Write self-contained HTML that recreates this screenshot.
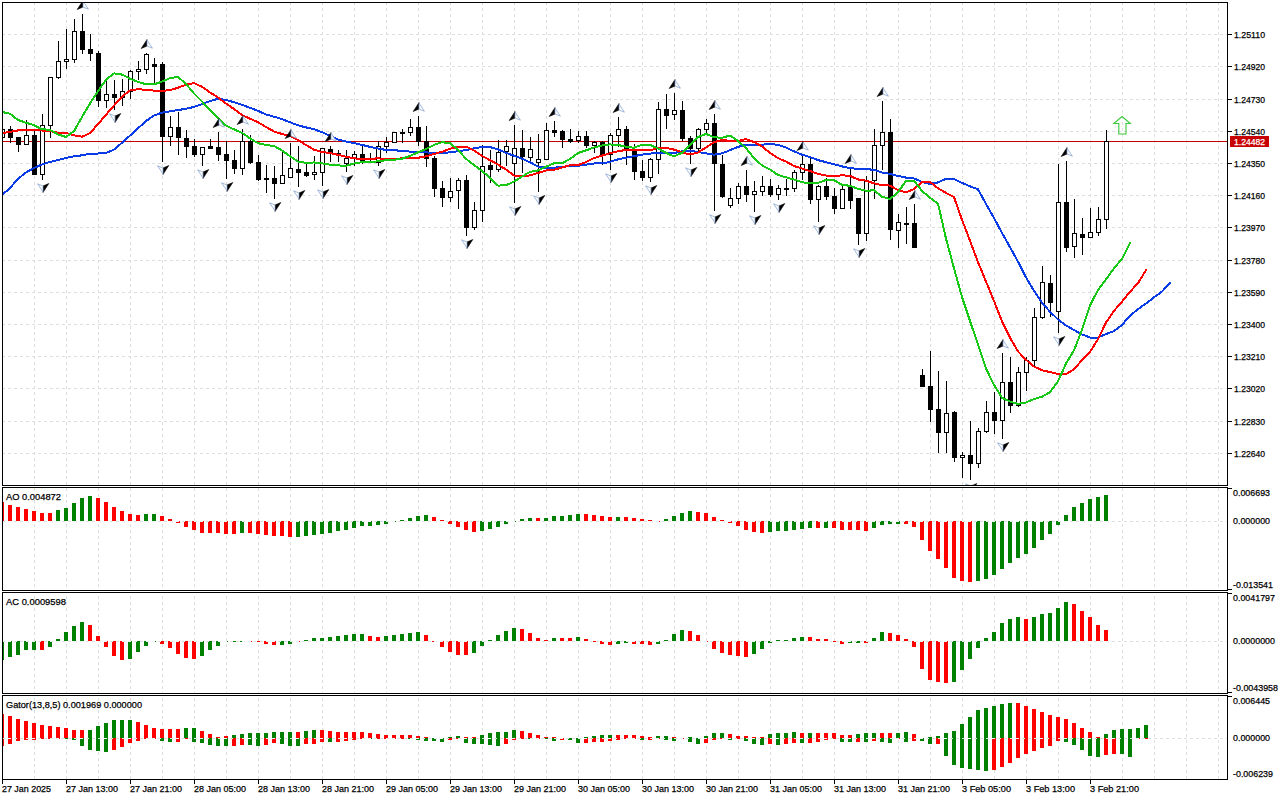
<!DOCTYPE html>
<html><head><meta charset="utf-8"><style>
html,body{margin:0;padding:0;background:#fff;width:1280px;height:800px;overflow:hidden}
svg{display:block;font-family:"Liberation Sans",sans-serif}
.g{stroke:#dedede;stroke-width:1;stroke-dasharray:3 3}
</style></head><body>
<svg width="1280" height="800" viewBox="0 0 1280 800">
<defs><clipPath id="cm"><rect x="3" y="3" width="1224" height="482"/></clipPath>
<clipPath id="cs"><rect x="3" y="488" width="1224" height="102"/><rect x="3" y="593" width="1224" height="100"/><rect x="3" y="696" width="1224" height="83"/></clipPath></defs>
<rect width="1280" height="800" fill="#fff"/>
<g shape-rendering="crispEdges">
<line x1="2" y1="34.5" x2="1227" y2="34.5" class="g"/>
<line x1="2" y1="66.5" x2="1227" y2="66.5" class="g"/>
<line x1="2" y1="99.5" x2="1227" y2="99.5" class="g"/>
<line x1="2" y1="131.5" x2="1227" y2="131.5" class="g"/>
<line x1="2" y1="163.5" x2="1227" y2="163.5" class="g"/>
<line x1="2" y1="195.5" x2="1227" y2="195.5" class="g"/>
<line x1="2" y1="227.5" x2="1227" y2="227.5" class="g"/>
<line x1="2" y1="260.5" x2="1227" y2="260.5" class="g"/>
<line x1="2" y1="292.5" x2="1227" y2="292.5" class="g"/>
<line x1="2" y1="324.5" x2="1227" y2="324.5" class="g"/>
<line x1="2" y1="356.5" x2="1227" y2="356.5" class="g"/>
<line x1="2" y1="388.5" x2="1227" y2="388.5" class="g"/>
<line x1="2" y1="421.5" x2="1227" y2="421.5" class="g"/>
<line x1="2" y1="453.5" x2="1227" y2="453.5" class="g"/>
<line x1="34.5" y1="2" x2="34.5" y2="485" class="g"/>
<line x1="66.5" y1="2" x2="66.5" y2="485" class="g"/>
<line x1="98.5" y1="2" x2="98.5" y2="485" class="g"/>
<line x1="130.5" y1="2" x2="130.5" y2="485" class="g"/>
<line x1="162.5" y1="2" x2="162.5" y2="485" class="g"/>
<line x1="194.5" y1="2" x2="194.5" y2="485" class="g"/>
<line x1="226.5" y1="2" x2="226.5" y2="485" class="g"/>
<line x1="258.5" y1="2" x2="258.5" y2="485" class="g"/>
<line x1="290.5" y1="2" x2="290.5" y2="485" class="g"/>
<line x1="322.5" y1="2" x2="322.5" y2="485" class="g"/>
<line x1="354.5" y1="2" x2="354.5" y2="485" class="g"/>
<line x1="386.5" y1="2" x2="386.5" y2="485" class="g"/>
<line x1="418.5" y1="2" x2="418.5" y2="485" class="g"/>
<line x1="450.5" y1="2" x2="450.5" y2="485" class="g"/>
<line x1="482.5" y1="2" x2="482.5" y2="485" class="g"/>
<line x1="514.5" y1="2" x2="514.5" y2="485" class="g"/>
<line x1="546.5" y1="2" x2="546.5" y2="485" class="g"/>
<line x1="578.5" y1="2" x2="578.5" y2="485" class="g"/>
<line x1="610.5" y1="2" x2="610.5" y2="485" class="g"/>
<line x1="642.5" y1="2" x2="642.5" y2="485" class="g"/>
<line x1="674.5" y1="2" x2="674.5" y2="485" class="g"/>
<line x1="706.5" y1="2" x2="706.5" y2="485" class="g"/>
<line x1="738.5" y1="2" x2="738.5" y2="485" class="g"/>
<line x1="770.5" y1="2" x2="770.5" y2="485" class="g"/>
<line x1="802.5" y1="2" x2="802.5" y2="485" class="g"/>
<line x1="834.5" y1="2" x2="834.5" y2="485" class="g"/>
<line x1="866.5" y1="2" x2="866.5" y2="485" class="g"/>
<line x1="898.5" y1="2" x2="898.5" y2="485" class="g"/>
<line x1="930.5" y1="2" x2="930.5" y2="485" class="g"/>
<line x1="962.5" y1="2" x2="962.5" y2="485" class="g"/>
<line x1="994.5" y1="2" x2="994.5" y2="485" class="g"/>
<line x1="1026.5" y1="2" x2="1026.5" y2="485" class="g"/>
<line x1="1058.5" y1="2" x2="1058.5" y2="485" class="g"/>
<line x1="1090.5" y1="2" x2="1090.5" y2="485" class="g"/>
<line x1="1122.5" y1="2" x2="1122.5" y2="485" class="g"/>
<line x1="1154.5" y1="2" x2="1154.5" y2="485" class="g"/>
<line x1="1186.5" y1="2" x2="1186.5" y2="485" class="g"/>
<line x1="1218.5" y1="2" x2="1218.5" y2="485" class="g"/>
<g clip-path="url(#cs)">
<line x1="34.5" y1="2" x2="34.5" y2="779" class="g"/>
<line x1="66.5" y1="2" x2="66.5" y2="779" class="g"/>
<line x1="98.5" y1="2" x2="98.5" y2="779" class="g"/>
<line x1="130.5" y1="2" x2="130.5" y2="779" class="g"/>
<line x1="162.5" y1="2" x2="162.5" y2="779" class="g"/>
<line x1="194.5" y1="2" x2="194.5" y2="779" class="g"/>
<line x1="226.5" y1="2" x2="226.5" y2="779" class="g"/>
<line x1="258.5" y1="2" x2="258.5" y2="779" class="g"/>
<line x1="290.5" y1="2" x2="290.5" y2="779" class="g"/>
<line x1="322.5" y1="2" x2="322.5" y2="779" class="g"/>
<line x1="354.5" y1="2" x2="354.5" y2="779" class="g"/>
<line x1="386.5" y1="2" x2="386.5" y2="779" class="g"/>
<line x1="418.5" y1="2" x2="418.5" y2="779" class="g"/>
<line x1="450.5" y1="2" x2="450.5" y2="779" class="g"/>
<line x1="482.5" y1="2" x2="482.5" y2="779" class="g"/>
<line x1="514.5" y1="2" x2="514.5" y2="779" class="g"/>
<line x1="546.5" y1="2" x2="546.5" y2="779" class="g"/>
<line x1="578.5" y1="2" x2="578.5" y2="779" class="g"/>
<line x1="610.5" y1="2" x2="610.5" y2="779" class="g"/>
<line x1="642.5" y1="2" x2="642.5" y2="779" class="g"/>
<line x1="674.5" y1="2" x2="674.5" y2="779" class="g"/>
<line x1="706.5" y1="2" x2="706.5" y2="779" class="g"/>
<line x1="738.5" y1="2" x2="738.5" y2="779" class="g"/>
<line x1="770.5" y1="2" x2="770.5" y2="779" class="g"/>
<line x1="802.5" y1="2" x2="802.5" y2="779" class="g"/>
<line x1="834.5" y1="2" x2="834.5" y2="779" class="g"/>
<line x1="866.5" y1="2" x2="866.5" y2="779" class="g"/>
<line x1="898.5" y1="2" x2="898.5" y2="779" class="g"/>
<line x1="930.5" y1="2" x2="930.5" y2="779" class="g"/>
<line x1="962.5" y1="2" x2="962.5" y2="779" class="g"/>
<line x1="994.5" y1="2" x2="994.5" y2="779" class="g"/>
<line x1="1026.5" y1="2" x2="1026.5" y2="779" class="g"/>
<line x1="1058.5" y1="2" x2="1058.5" y2="779" class="g"/>
<line x1="1090.5" y1="2" x2="1090.5" y2="779" class="g"/>
<line x1="1122.5" y1="2" x2="1122.5" y2="779" class="g"/>
<line x1="1154.5" y1="2" x2="1154.5" y2="779" class="g"/>
<line x1="1186.5" y1="2" x2="1186.5" y2="779" class="g"/>
<line x1="1218.5" y1="2" x2="1218.5" y2="779" class="g"/>
</g>
<line x1="2" y1="521.5" x2="1227" y2="521.5" class="g"/>
<line x1="2" y1="641.5" x2="1227" y2="641.5" class="g"/>
<line x1="2" y1="738.5" x2="1227" y2="738.5" class="g"/>
<g clip-path="url(#cm)">
<rect x="3" y="141" width="1224" height="1" fill="#c80000"/>
<rect x="2" y="129" width="1" height="9" fill="#000"/>
<rect x="0" y="129" width="5" height="9" fill="#000"/>
<rect x="1" y="130" width="3" height="7" fill="#fff"/>
<rect x="10" y="126" width="1" height="17" fill="#000"/>
<rect x="8" y="129" width="5" height="9" fill="#000"/>
<rect x="18" y="137" width="1" height="15" fill="#000"/>
<rect x="16" y="137" width="5" height="8" fill="#000"/>
<rect x="26" y="120" width="1" height="25" fill="#000"/>
<rect x="24" y="135" width="5" height="10" fill="#000"/>
<rect x="25" y="136" width="3" height="8" fill="#fff"/>
<rect x="34" y="129" width="1" height="46" fill="#000"/>
<rect x="32" y="135" width="5" height="40" fill="#000"/>
<rect x="42" y="114" width="1" height="66" fill="#000"/>
<rect x="40" y="125" width="5" height="50" fill="#000"/>
<rect x="41" y="126" width="3" height="48" fill="#fff"/>
<rect x="50" y="77" width="1" height="61" fill="#000"/>
<rect x="48" y="77" width="5" height="49" fill="#000"/>
<rect x="49" y="78" width="3" height="47" fill="#fff"/>
<rect x="58" y="41" width="1" height="38" fill="#000"/>
<rect x="56" y="61" width="5" height="17" fill="#000"/>
<rect x="57" y="62" width="3" height="15" fill="#fff"/>
<rect x="66" y="29" width="1" height="40" fill="#000"/>
<rect x="64" y="59" width="5" height="3" fill="#000"/>
<rect x="65" y="60" width="3" height="1" fill="#fff"/>
<rect x="74" y="19" width="1" height="44" fill="#000"/>
<rect x="72" y="31" width="5" height="29" fill="#000"/>
<rect x="73" y="32" width="3" height="27" fill="#fff"/>
<rect x="82" y="14" width="1" height="40" fill="#000"/>
<rect x="80" y="31" width="5" height="19" fill="#000"/>
<rect x="90" y="34" width="1" height="27" fill="#000"/>
<rect x="88" y="49" width="5" height="5" fill="#000"/>
<rect x="98" y="51" width="1" height="56" fill="#000"/>
<rect x="96" y="53" width="5" height="48" fill="#000"/>
<rect x="106" y="81" width="1" height="27" fill="#000"/>
<rect x="104" y="94" width="5" height="7" fill="#000"/>
<rect x="105" y="95" width="3" height="5" fill="#fff"/>
<rect x="114" y="80" width="1" height="30" fill="#000"/>
<rect x="112" y="94" width="5" height="4" fill="#000"/>
<rect x="122" y="79" width="1" height="27" fill="#000"/>
<rect x="120" y="91" width="5" height="7" fill="#000"/>
<rect x="121" y="92" width="3" height="5" fill="#fff"/>
<rect x="130" y="70" width="1" height="29" fill="#000"/>
<rect x="128" y="71" width="5" height="21" fill="#000"/>
<rect x="129" y="72" width="3" height="19" fill="#fff"/>
<rect x="138" y="61" width="1" height="19" fill="#000"/>
<rect x="136" y="69" width="5" height="3" fill="#000"/>
<rect x="137" y="70" width="3" height="1" fill="#fff"/>
<rect x="146" y="53" width="1" height="21" fill="#000"/>
<rect x="144" y="54" width="5" height="16" fill="#000"/>
<rect x="145" y="55" width="3" height="14" fill="#fff"/>
<rect x="154" y="58" width="1" height="27" fill="#000"/>
<rect x="152" y="64" width="5" height="3" fill="#000"/>
<rect x="162" y="62" width="1" height="100" fill="#000"/>
<rect x="160" y="64" width="5" height="73" fill="#000"/>
<rect x="170" y="116" width="1" height="30" fill="#000"/>
<rect x="168" y="127" width="5" height="10" fill="#000"/>
<rect x="169" y="128" width="3" height="8" fill="#fff"/>
<rect x="178" y="112" width="1" height="43" fill="#000"/>
<rect x="176" y="127" width="5" height="11" fill="#000"/>
<rect x="186" y="130" width="1" height="28" fill="#000"/>
<rect x="184" y="138" width="5" height="9" fill="#000"/>
<rect x="194" y="139" width="1" height="18" fill="#000"/>
<rect x="192" y="146" width="5" height="9" fill="#000"/>
<rect x="202" y="147" width="1" height="19" fill="#000"/>
<rect x="200" y="147" width="5" height="8" fill="#000"/>
<rect x="201" y="148" width="3" height="6" fill="#fff"/>
<rect x="210" y="139" width="1" height="10" fill="#000"/>
<rect x="208" y="146" width="5" height="3" fill="#000"/>
<rect x="218" y="132" width="1" height="29" fill="#000"/>
<rect x="216" y="147" width="5" height="8" fill="#000"/>
<rect x="226" y="141" width="1" height="38" fill="#000"/>
<rect x="224" y="154" width="5" height="7" fill="#000"/>
<rect x="234" y="150" width="1" height="24" fill="#000"/>
<rect x="232" y="160" width="5" height="9" fill="#000"/>
<rect x="242" y="129" width="1" height="46" fill="#000"/>
<rect x="240" y="141" width="5" height="28" fill="#000"/>
<rect x="241" y="142" width="3" height="26" fill="#fff"/>
<rect x="250" y="135" width="1" height="29" fill="#000"/>
<rect x="248" y="141" width="5" height="22" fill="#000"/>
<rect x="258" y="155" width="1" height="26" fill="#000"/>
<rect x="256" y="162" width="5" height="18" fill="#000"/>
<rect x="266" y="165" width="1" height="28" fill="#000"/>
<rect x="264" y="178" width="5" height="2" fill="#000"/>
<rect x="274" y="166" width="1" height="33" fill="#000"/>
<rect x="272" y="178" width="5" height="6" fill="#000"/>
<rect x="282" y="151" width="1" height="33" fill="#000"/>
<rect x="280" y="175" width="5" height="9" fill="#000"/>
<rect x="281" y="176" width="3" height="7" fill="#fff"/>
<rect x="290" y="143" width="1" height="35" fill="#000"/>
<rect x="288" y="168" width="5" height="10" fill="#000"/>
<rect x="289" y="169" width="3" height="8" fill="#fff"/>
<rect x="298" y="146" width="1" height="41" fill="#000"/>
<rect x="296" y="169" width="5" height="4" fill="#000"/>
<rect x="306" y="162" width="1" height="15" fill="#000"/>
<rect x="304" y="172" width="5" height="4" fill="#000"/>
<rect x="314" y="156" width="1" height="24" fill="#000"/>
<rect x="312" y="172" width="5" height="3" fill="#000"/>
<rect x="313" y="173" width="3" height="1" fill="#fff"/>
<rect x="322" y="148" width="1" height="38" fill="#000"/>
<rect x="320" y="148" width="5" height="25" fill="#000"/>
<rect x="321" y="149" width="3" height="23" fill="#fff"/>
<rect x="330" y="146" width="1" height="16" fill="#000"/>
<rect x="328" y="149" width="5" height="5" fill="#000"/>
<rect x="338" y="150" width="1" height="12" fill="#000"/>
<rect x="336" y="153" width="5" height="2" fill="#000"/>
<rect x="346" y="150" width="1" height="22" fill="#000"/>
<rect x="344" y="158" width="5" height="6" fill="#000"/>
<rect x="345" y="159" width="3" height="4" fill="#fff"/>
<rect x="354" y="151" width="1" height="15" fill="#000"/>
<rect x="352" y="154" width="5" height="5" fill="#000"/>
<rect x="353" y="155" width="3" height="3" fill="#fff"/>
<rect x="362" y="146" width="1" height="18" fill="#000"/>
<rect x="360" y="154" width="5" height="7" fill="#000"/>
<rect x="370" y="153" width="1" height="10" fill="#000"/>
<rect x="368" y="161" width="5" height="2" fill="#000"/>
<rect x="378" y="141" width="1" height="25" fill="#000"/>
<rect x="376" y="146" width="5" height="17" fill="#000"/>
<rect x="377" y="147" width="3" height="15" fill="#fff"/>
<rect x="386" y="137" width="1" height="16" fill="#000"/>
<rect x="384" y="142" width="5" height="5" fill="#000"/>
<rect x="385" y="143" width="3" height="3" fill="#fff"/>
<rect x="394" y="132" width="1" height="11" fill="#000"/>
<rect x="392" y="132" width="5" height="11" fill="#000"/>
<rect x="393" y="133" width="3" height="9" fill="#fff"/>
<rect x="402" y="129" width="1" height="14" fill="#000"/>
<rect x="400" y="132" width="5" height="2" fill="#000"/>
<rect x="410" y="119" width="1" height="17" fill="#000"/>
<rect x="408" y="127" width="5" height="6" fill="#000"/>
<rect x="409" y="128" width="3" height="4" fill="#fff"/>
<rect x="418" y="116" width="1" height="30" fill="#000"/>
<rect x="416" y="127" width="5" height="15" fill="#000"/>
<rect x="426" y="126" width="1" height="41" fill="#000"/>
<rect x="424" y="141" width="5" height="18" fill="#000"/>
<rect x="434" y="156" width="1" height="41" fill="#000"/>
<rect x="432" y="158" width="5" height="31" fill="#000"/>
<rect x="442" y="181" width="1" height="26" fill="#000"/>
<rect x="440" y="188" width="5" height="10" fill="#000"/>
<rect x="450" y="178" width="1" height="24" fill="#000"/>
<rect x="448" y="191" width="5" height="7" fill="#000"/>
<rect x="449" y="192" width="3" height="5" fill="#fff"/>
<rect x="458" y="178" width="1" height="31" fill="#000"/>
<rect x="456" y="180" width="5" height="11" fill="#000"/>
<rect x="457" y="181" width="3" height="9" fill="#fff"/>
<rect x="466" y="175" width="1" height="61" fill="#000"/>
<rect x="464" y="180" width="5" height="48" fill="#000"/>
<rect x="474" y="202" width="1" height="28" fill="#000"/>
<rect x="472" y="210" width="5" height="18" fill="#000"/>
<rect x="473" y="211" width="3" height="16" fill="#fff"/>
<rect x="482" y="145" width="1" height="77" fill="#000"/>
<rect x="480" y="166" width="5" height="45" fill="#000"/>
<rect x="481" y="167" width="3" height="43" fill="#fff"/>
<rect x="490" y="150" width="1" height="33" fill="#000"/>
<rect x="488" y="165" width="5" height="5" fill="#000"/>
<rect x="498" y="140" width="1" height="32" fill="#000"/>
<rect x="496" y="152" width="5" height="18" fill="#000"/>
<rect x="497" y="153" width="3" height="16" fill="#fff"/>
<rect x="506" y="140" width="1" height="26" fill="#000"/>
<rect x="504" y="146" width="5" height="6" fill="#000"/>
<rect x="505" y="147" width="3" height="4" fill="#fff"/>
<rect x="514" y="125" width="1" height="78" fill="#000"/>
<rect x="512" y="148" width="5" height="16" fill="#000"/>
<rect x="513" y="149" width="3" height="14" fill="#fff"/>
<rect x="522" y="130" width="1" height="43" fill="#000"/>
<rect x="520" y="148" width="5" height="9" fill="#000"/>
<rect x="530" y="137" width="1" height="24" fill="#000"/>
<rect x="528" y="149" width="5" height="9" fill="#000"/>
<rect x="529" y="150" width="3" height="7" fill="#fff"/>
<rect x="538" y="134" width="1" height="58" fill="#000"/>
<rect x="536" y="159" width="5" height="4" fill="#000"/>
<rect x="537" y="160" width="3" height="2" fill="#fff"/>
<rect x="546" y="123" width="1" height="37" fill="#000"/>
<rect x="544" y="130" width="5" height="30" fill="#000"/>
<rect x="545" y="131" width="3" height="28" fill="#fff"/>
<rect x="554" y="121" width="1" height="16" fill="#000"/>
<rect x="552" y="130" width="5" height="3" fill="#000"/>
<rect x="562" y="130" width="1" height="18" fill="#000"/>
<rect x="560" y="131" width="5" height="9" fill="#000"/>
<rect x="570" y="129" width="1" height="14" fill="#000"/>
<rect x="568" y="139" width="5" height="3" fill="#000"/>
<rect x="578" y="131" width="1" height="12" fill="#000"/>
<rect x="576" y="136" width="5" height="5" fill="#000"/>
<rect x="577" y="137" width="3" height="3" fill="#fff"/>
<rect x="586" y="131" width="1" height="17" fill="#000"/>
<rect x="584" y="136" width="5" height="10" fill="#000"/>
<rect x="594" y="141" width="1" height="12" fill="#000"/>
<rect x="592" y="142" width="5" height="4" fill="#000"/>
<rect x="593" y="143" width="3" height="2" fill="#fff"/>
<rect x="602" y="141" width="1" height="24" fill="#000"/>
<rect x="600" y="142" width="5" height="13" fill="#000"/>
<rect x="610" y="133" width="1" height="37" fill="#000"/>
<rect x="608" y="135" width="5" height="20" fill="#000"/>
<rect x="609" y="136" width="3" height="18" fill="#fff"/>
<rect x="618" y="117" width="1" height="30" fill="#000"/>
<rect x="616" y="129" width="5" height="7" fill="#000"/>
<rect x="617" y="130" width="3" height="5" fill="#fff"/>
<rect x="626" y="126" width="1" height="39" fill="#000"/>
<rect x="624" y="129" width="5" height="20" fill="#000"/>
<rect x="634" y="144" width="1" height="36" fill="#000"/>
<rect x="632" y="151" width="5" height="21" fill="#000"/>
<rect x="642" y="160" width="1" height="21" fill="#000"/>
<rect x="640" y="171" width="5" height="7" fill="#000"/>
<rect x="650" y="158" width="1" height="24" fill="#000"/>
<rect x="648" y="159" width="5" height="19" fill="#000"/>
<rect x="649" y="160" width="3" height="17" fill="#fff"/>
<rect x="658" y="102" width="1" height="72" fill="#000"/>
<rect x="656" y="109" width="5" height="51" fill="#000"/>
<rect x="657" y="110" width="3" height="49" fill="#fff"/>
<rect x="666" y="94" width="1" height="35" fill="#000"/>
<rect x="664" y="109" width="5" height="7" fill="#000"/>
<rect x="674" y="93" width="1" height="27" fill="#000"/>
<rect x="672" y="110" width="5" height="5" fill="#000"/>
<rect x="673" y="111" width="3" height="3" fill="#fff"/>
<rect x="682" y="101" width="1" height="40" fill="#000"/>
<rect x="680" y="110" width="5" height="29" fill="#000"/>
<rect x="690" y="136" width="1" height="28" fill="#000"/>
<rect x="688" y="138" width="5" height="11" fill="#000"/>
<rect x="698" y="128" width="1" height="23" fill="#000"/>
<rect x="696" y="129" width="5" height="20" fill="#000"/>
<rect x="697" y="130" width="3" height="18" fill="#fff"/>
<rect x="706" y="119" width="1" height="14" fill="#000"/>
<rect x="704" y="123" width="5" height="7" fill="#000"/>
<rect x="705" y="124" width="3" height="5" fill="#fff"/>
<rect x="714" y="114" width="1" height="97" fill="#000"/>
<rect x="712" y="123" width="5" height="41" fill="#000"/>
<rect x="722" y="155" width="1" height="43" fill="#000"/>
<rect x="720" y="164" width="5" height="33" fill="#000"/>
<rect x="730" y="188" width="1" height="20" fill="#000"/>
<rect x="728" y="198" width="5" height="8" fill="#000"/>
<rect x="729" y="199" width="3" height="6" fill="#fff"/>
<rect x="738" y="183" width="1" height="21" fill="#000"/>
<rect x="736" y="186" width="5" height="13" fill="#000"/>
<rect x="737" y="187" width="3" height="11" fill="#fff"/>
<rect x="746" y="170" width="1" height="32" fill="#000"/>
<rect x="744" y="186" width="5" height="9" fill="#000"/>
<rect x="754" y="181" width="1" height="31" fill="#000"/>
<rect x="752" y="191" width="5" height="4" fill="#000"/>
<rect x="753" y="192" width="3" height="2" fill="#fff"/>
<rect x="762" y="176" width="1" height="20" fill="#000"/>
<rect x="760" y="186" width="5" height="6" fill="#000"/>
<rect x="761" y="187" width="3" height="4" fill="#fff"/>
<rect x="770" y="179" width="1" height="18" fill="#000"/>
<rect x="768" y="186" width="5" height="9" fill="#000"/>
<rect x="778" y="185" width="1" height="15" fill="#000"/>
<rect x="776" y="188" width="5" height="7" fill="#000"/>
<rect x="777" y="189" width="3" height="5" fill="#fff"/>
<rect x="786" y="179" width="1" height="17" fill="#000"/>
<rect x="784" y="188" width="5" height="2" fill="#000"/>
<rect x="794" y="170" width="1" height="22" fill="#000"/>
<rect x="792" y="172" width="5" height="17" fill="#000"/>
<rect x="793" y="173" width="3" height="15" fill="#fff"/>
<rect x="802" y="155" width="1" height="25" fill="#000"/>
<rect x="800" y="164" width="5" height="9" fill="#000"/>
<rect x="801" y="165" width="3" height="7" fill="#fff"/>
<rect x="810" y="157" width="1" height="47" fill="#000"/>
<rect x="808" y="164" width="5" height="36" fill="#000"/>
<rect x="818" y="185" width="1" height="37" fill="#000"/>
<rect x="816" y="186" width="5" height="14" fill="#000"/>
<rect x="817" y="187" width="3" height="12" fill="#fff"/>
<rect x="826" y="178" width="1" height="22" fill="#000"/>
<rect x="824" y="186" width="5" height="11" fill="#000"/>
<rect x="834" y="188" width="1" height="26" fill="#000"/>
<rect x="832" y="196" width="5" height="13" fill="#000"/>
<rect x="842" y="186" width="1" height="23" fill="#000"/>
<rect x="840" y="189" width="5" height="20" fill="#000"/>
<rect x="841" y="190" width="3" height="18" fill="#fff"/>
<rect x="850" y="168" width="1" height="41" fill="#000"/>
<rect x="848" y="187" width="5" height="14" fill="#000"/>
<rect x="858" y="198" width="1" height="47" fill="#000"/>
<rect x="856" y="198" width="5" height="36" fill="#000"/>
<rect x="866" y="176" width="1" height="65" fill="#000"/>
<rect x="864" y="180" width="5" height="54" fill="#000"/>
<rect x="865" y="181" width="3" height="52" fill="#fff"/>
<rect x="874" y="129" width="1" height="70" fill="#000"/>
<rect x="872" y="145" width="5" height="36" fill="#000"/>
<rect x="873" y="146" width="3" height="34" fill="#fff"/>
<rect x="882" y="101" width="1" height="69" fill="#000"/>
<rect x="880" y="132" width="5" height="14" fill="#000"/>
<rect x="881" y="133" width="3" height="12" fill="#fff"/>
<rect x="890" y="119" width="1" height="121" fill="#000"/>
<rect x="888" y="132" width="5" height="98" fill="#000"/>
<rect x="898" y="214" width="1" height="34" fill="#000"/>
<rect x="896" y="222" width="5" height="9" fill="#000"/>
<rect x="897" y="223" width="3" height="7" fill="#fff"/>
<rect x="906" y="207" width="1" height="37" fill="#000"/>
<rect x="904" y="223" width="5" height="2" fill="#000"/>
<rect x="914" y="204" width="1" height="44" fill="#000"/>
<rect x="912" y="223" width="5" height="25" fill="#000"/>
<rect x="922" y="369" width="1" height="18" fill="#000"/>
<rect x="920" y="375" width="5" height="12" fill="#000"/>
<rect x="930" y="351" width="1" height="71" fill="#000"/>
<rect x="928" y="386" width="5" height="24" fill="#000"/>
<rect x="938" y="371" width="1" height="82" fill="#000"/>
<rect x="936" y="409" width="5" height="24" fill="#000"/>
<rect x="946" y="381" width="1" height="72" fill="#000"/>
<rect x="944" y="413" width="5" height="20" fill="#000"/>
<rect x="945" y="414" width="3" height="18" fill="#fff"/>
<rect x="954" y="411" width="1" height="51" fill="#000"/>
<rect x="952" y="412" width="5" height="46" fill="#000"/>
<rect x="962" y="452" width="1" height="26" fill="#000"/>
<rect x="960" y="455" width="5" height="3" fill="#000"/>
<rect x="961" y="456" width="3" height="1" fill="#fff"/>
<rect x="970" y="421" width="1" height="59" fill="#000"/>
<rect x="968" y="455" width="5" height="9" fill="#000"/>
<rect x="978" y="428" width="1" height="40" fill="#000"/>
<rect x="976" y="431" width="5" height="33" fill="#000"/>
<rect x="977" y="432" width="3" height="31" fill="#fff"/>
<rect x="986" y="401" width="1" height="32" fill="#000"/>
<rect x="984" y="412" width="5" height="20" fill="#000"/>
<rect x="985" y="413" width="3" height="18" fill="#fff"/>
<rect x="994" y="392" width="1" height="42" fill="#000"/>
<rect x="992" y="412" width="5" height="9" fill="#000"/>
<rect x="1002" y="353" width="1" height="86" fill="#000"/>
<rect x="1000" y="382" width="5" height="39" fill="#000"/>
<rect x="1001" y="383" width="3" height="37" fill="#fff"/>
<rect x="1010" y="357" width="1" height="56" fill="#000"/>
<rect x="1008" y="382" width="5" height="24" fill="#000"/>
<rect x="1018" y="367" width="1" height="40" fill="#000"/>
<rect x="1016" y="372" width="5" height="34" fill="#000"/>
<rect x="1017" y="373" width="3" height="32" fill="#fff"/>
<rect x="1026" y="357" width="1" height="34" fill="#000"/>
<rect x="1024" y="360" width="5" height="13" fill="#000"/>
<rect x="1025" y="361" width="3" height="11" fill="#fff"/>
<rect x="1034" y="308" width="1" height="58" fill="#000"/>
<rect x="1032" y="317" width="5" height="44" fill="#000"/>
<rect x="1033" y="318" width="3" height="42" fill="#fff"/>
<rect x="1042" y="266" width="1" height="53" fill="#000"/>
<rect x="1040" y="282" width="5" height="36" fill="#000"/>
<rect x="1041" y="283" width="3" height="34" fill="#fff"/>
<rect x="1050" y="275" width="1" height="42" fill="#000"/>
<rect x="1048" y="283" width="5" height="20" fill="#000"/>
<rect x="1058" y="164" width="1" height="169" fill="#000"/>
<rect x="1056" y="202" width="5" height="110" fill="#000"/>
<rect x="1057" y="203" width="3" height="108" fill="#fff"/>
<rect x="1066" y="161" width="1" height="91" fill="#000"/>
<rect x="1064" y="202" width="5" height="46" fill="#000"/>
<rect x="1074" y="199" width="1" height="59" fill="#000"/>
<rect x="1072" y="233" width="5" height="14" fill="#000"/>
<rect x="1073" y="234" width="3" height="12" fill="#fff"/>
<rect x="1082" y="218" width="1" height="37" fill="#000"/>
<rect x="1080" y="234" width="5" height="4" fill="#000"/>
<rect x="1090" y="208" width="1" height="30" fill="#000"/>
<rect x="1088" y="232" width="5" height="6" fill="#000"/>
<rect x="1089" y="233" width="3" height="4" fill="#fff"/>
<rect x="1098" y="207" width="1" height="29" fill="#000"/>
<rect x="1096" y="219" width="5" height="14" fill="#000"/>
<rect x="1097" y="220" width="3" height="12" fill="#fff"/>
<rect x="1106" y="130" width="1" height="99" fill="#000"/>
<rect x="1104" y="141" width="5" height="79" fill="#000"/>
<rect x="1105" y="142" width="3" height="77" fill="#fff"/>
<polyline points="2,195.00 10,188.00 18,178.75 26,172.50 34,168.00 42,164.40 50,162.00 58,160.00 66,157.99 74,156.22 82,155.35 90,153.62 98,153.53 106,153.05 114,149.58 122,142.72 130,135.54 138,128.30 146,121.08 154,115.45 162,112.68 170,111.31 178,110.08 186,108.76 194,106.93 202,104.16 210,101.06 218,98.82 226,99.86 234,102.29 242,104.72 250,107.77 258,110.90 266,114.44 274,116.74 282,119.06 290,122.24 298,125.33 306,127.41 314,129.14 322,132.16 330,135.80 338,139.42 346,141.61 354,143.09 362,144.92 370,146.85 378,148.50 386,149.96 394,150.30 402,150.77 410,151.59 418,152.15 426,152.40 434,152.86 442,152.94 450,152.36 458,151.25 466,150.11 474,148.40 482,147.09 490,147.08 498,149.37 506,152.83 514,155.72 522,158.66 530,162.29 538,166.46 546,167.80 554,167.73 562,166.86 570,165.82 578,165.71 586,164.65 594,163.48 602,163.47 610,161.81 618,159.32 626,157.79 634,156.14 642,154.70 650,153.56 658,153.09 666,153.11 674,153.02 682,151.43 690,151.01 698,151.88 706,153.35 714,154.66 722,153.41 730,150.21 738,146.88 746,144.92 754,145.34 762,144.92 770,143.50 778,144.99 786,147.45 794,151.37 802,154.64 810,157.08 818,160.14 826,162.16 834,164.18 842,166.39 850,168.05 858,169.07 866,168.98 874,169.90 882,172.51 890,173.81 898,175.94 906,177.63 914,178.49 922,181.83 930,183.91 938,182.41 946,178.83 954,178.92 962,182.95 970,186.26 978,189.35 986,203.89 994,217.97 1002,232.92 1010,247.11 1018,261.71 1026,277.38 1034,290.73 1042,302.86 1050,311.67 1058,319.49 1066,325.41 1074,330.02 1082,334.44 1090,337.51 1098,337.50 1106,334.07 1114,331.17 1122,324.85 1130,315.77 1138,309.09 1146,303.54 1154,297.37 1162,291.57 1170,282.98" fill="none" stroke="#0a3ce6" stroke-width="2" stroke-linejoin="round" stroke-linecap="round"/>
<polyline points="2,133.00 10,131.90 18,130.40 26,130.00 34,130.00 42,130.49 50,131.04 58,132.77 66,132.79 74,135.24 82,136.76 90,133.15 98,124.06 106,114.73 114,105.56 122,96.66 130,90.57 138,89.17 146,89.89 154,90.58 162,90.87 170,90.12 178,87.72 186,84.74 194,83.14 202,86.79 210,92.37 218,97.56 226,103.42 234,109.04 242,115.02 250,118.69 258,122.22 266,126.99 274,131.42 282,134.04 290,136.02 298,140.07 306,144.99 314,149.73 322,152.00 330,153.11 338,154.83 346,156.72 354,158.18 362,159.33 370,158.71 378,158.42 386,158.80 394,158.81 402,158.38 410,158.39 418,157.82 426,156.27 434,153.98 442,151.78 450,148.79 458,146.62 466,146.65 474,150.44 482,155.93 490,160.24 498,164.45 506,169.63 514,175.48 522,176.53 530,175.32 538,172.96 546,170.51 554,169.75 562,167.52 570,165.25 578,165.02 586,162.13 594,158.04 602,155.71 610,153.30 618,151.31 626,149.88 634,149.57 642,150.05 650,150.28 658,148.05 666,147.78 674,149.61 682,152.27 690,154.53 698,152.52 706,147.44 714,142.37 722,139.75 730,141.08 738,140.93 746,139.12 754,142.09 762,146.44 770,152.94 778,158.06 786,161.60 794,166.01 802,168.56 810,171.04 818,173.77 826,175.54 834,176.27 842,175.23 850,175.93 858,179.43 866,180.68 874,183.27 882,185.10 890,185.57 898,190.11 906,192.46 914,188.95 922,182.32 930,182.02 938,188.19 946,192.91 954,197.09 962,219.76 970,240.65 978,262.12 986,281.53 994,300.95 1002,321.51 1010,337.68 1018,351.52 1026,359.75 1034,366.46 1042,370.20 1050,372.10 1058,374.01 1066,374.06 1074,369.48 1082,359.91 1090,351.97 1098,339.09 1106,322.56 1114,310.85 1122,301.61 1130,291.83 1138,283.09 1146,270.19" fill="none" stroke="#ff0000" stroke-width="2" stroke-linejoin="round" stroke-linecap="round"/>
<polyline points="2,111.90 10,113.75 18,120.00 26,122.78 34,125.20 42,129.14 50,129.89 58,134.40 66,137.00 74,131.18 82,117.02 90,103.50 98,91.08 106,79.74 114,73.37 122,74.58 130,78.64 138,81.99 146,84.18 154,84.32 162,81.64 170,78.09 178,76.85 186,83.96 194,93.45 202,101.54 210,110.11 218,117.77 226,125.60 234,129.36 242,132.86 250,138.37 258,143.18 266,145.02 274,146.00 282,150.48 290,156.26 298,161.59 306,162.85 314,162.46 322,163.35 330,164.66 338,165.41 346,165.81 354,163.52 362,162.10 370,161.96 378,161.35 386,160.16 394,159.81 402,158.63 410,155.98 418,152.36 426,149.17 434,144.92 442,142.21 450,143.15 458,149.90 466,158.80 474,165.12 482,170.88 490,177.88 498,185.58 506,185.25 514,181.58 522,176.54 530,171.91 538,170.41 546,166.71 554,163.25 562,163.28 570,159.00 578,153.08 586,150.35 594,147.56 602,145.53 610,144.40 618,145.00 626,146.68 634,147.72 642,144.66 650,144.91 658,148.41 666,152.90 674,156.40 682,152.80 690,144.62 698,137.08 706,133.94 714,137.23 722,137.77 730,135.49 738,140.97 746,148.16 754,158.21 762,165.35 770,169.56 778,175.03 786,177.30 794,179.52 802,182.20 810,183.34 818,182.95 826,179.94 834,180.13 842,184.89 850,185.79 858,188.91 866,190.71 874,190.35 882,196.66 890,199.11 898,192.16 906,180.91 914,180.71 922,190.85 930,197.86 938,203.57 946,238.53 954,268.21 962,297.05 970,321.12 978,344.27 986,368.50 994,384.98 1002,397.66 1010,401.61 1018,403.97 1026,402.45 1034,399.04 1042,396.71 1050,392.25 1058,381.28 1066,363.61 1074,350.16 1082,329.91 1090,305.31 1098,290.03 1106,279.40 1114,268.20 1122,258.94 1130,243.13" fill="none" stroke="#14c814" stroke-width="2" stroke-linejoin="round" stroke-linecap="round"/>
<path d="M83,0.5 L77.2,9.5 L83,7 Z" fill="#000" stroke="#000" stroke-width="0.6" shape-rendering="geometricPrecision"/>
<path d="M83,1.1 L88.4,9.2 L83,7 Z" fill="#fff" stroke="#7a9ac8" stroke-width="0.7" shape-rendering="geometricPrecision"/>
<path d="M147,39.5 L141.2,48.5 L147,46 Z" fill="#000" stroke="#000" stroke-width="0.6" shape-rendering="geometricPrecision"/>
<path d="M147,40.1 L152.4,48.2 L147,46 Z" fill="#fff" stroke="#7a9ac8" stroke-width="0.7" shape-rendering="geometricPrecision"/>
<path d="M219,118.5 L213.2,127.5 L219,125 Z" fill="#000" stroke="#000" stroke-width="0.6" shape-rendering="geometricPrecision"/>
<path d="M219,119.1 L224.4,127.2 L219,125 Z" fill="#fff" stroke="#7a9ac8" stroke-width="0.7" shape-rendering="geometricPrecision"/>
<path d="M243,115.5 L237.2,124.5 L243,122 Z" fill="#000" stroke="#000" stroke-width="0.6" shape-rendering="geometricPrecision"/>
<path d="M243,116.1 L248.4,124.2 L243,122 Z" fill="#fff" stroke="#7a9ac8" stroke-width="0.7" shape-rendering="geometricPrecision"/>
<path d="M291,129.5 L285.2,138.5 L291,136 Z" fill="#000" stroke="#000" stroke-width="0.6" shape-rendering="geometricPrecision"/>
<path d="M291,130.1 L296.4,138.2 L291,136 Z" fill="#fff" stroke="#7a9ac8" stroke-width="0.7" shape-rendering="geometricPrecision"/>
<path d="M331,132.5 L325.2,141.5 L331,139 Z" fill="#000" stroke="#000" stroke-width="0.6" shape-rendering="geometricPrecision"/>
<path d="M331,133.1 L336.4,141.2 L331,139 Z" fill="#fff" stroke="#7a9ac8" stroke-width="0.7" shape-rendering="geometricPrecision"/>
<path d="M419,102.5 L413.2,111.5 L419,109 Z" fill="#000" stroke="#000" stroke-width="0.6" shape-rendering="geometricPrecision"/>
<path d="M419,103.1 L424.4,111.2 L419,109 Z" fill="#fff" stroke="#7a9ac8" stroke-width="0.7" shape-rendering="geometricPrecision"/>
<path d="M515,111.5 L509.2,120.5 L515,118 Z" fill="#000" stroke="#000" stroke-width="0.6" shape-rendering="geometricPrecision"/>
<path d="M515,112.1 L520.4,120.2 L515,118 Z" fill="#fff" stroke="#7a9ac8" stroke-width="0.7" shape-rendering="geometricPrecision"/>
<path d="M555,107.5 L549.2,116.5 L555,114 Z" fill="#000" stroke="#000" stroke-width="0.6" shape-rendering="geometricPrecision"/>
<path d="M555,108.1 L560.4,116.2 L555,114 Z" fill="#fff" stroke="#7a9ac8" stroke-width="0.7" shape-rendering="geometricPrecision"/>
<path d="M619,103.5 L613.2,112.5 L619,110 Z" fill="#000" stroke="#000" stroke-width="0.6" shape-rendering="geometricPrecision"/>
<path d="M619,104.1 L624.4,112.2 L619,110 Z" fill="#fff" stroke="#7a9ac8" stroke-width="0.7" shape-rendering="geometricPrecision"/>
<path d="M675,79.5 L669.2,88.5 L675,86 Z" fill="#000" stroke="#000" stroke-width="0.6" shape-rendering="geometricPrecision"/>
<path d="M675,80.1 L680.4,88.2 L675,86 Z" fill="#fff" stroke="#7a9ac8" stroke-width="0.7" shape-rendering="geometricPrecision"/>
<path d="M715,100.5 L709.2,109.5 L715,107 Z" fill="#000" stroke="#000" stroke-width="0.6" shape-rendering="geometricPrecision"/>
<path d="M715,101.1 L720.4,109.2 L715,107 Z" fill="#fff" stroke="#7a9ac8" stroke-width="0.7" shape-rendering="geometricPrecision"/>
<path d="M747,156.5 L741.2,165.5 L747,163 Z" fill="#000" stroke="#000" stroke-width="0.6" shape-rendering="geometricPrecision"/>
<path d="M747,157.1 L752.4,165.2 L747,163 Z" fill="#fff" stroke="#7a9ac8" stroke-width="0.7" shape-rendering="geometricPrecision"/>
<path d="M803,141.5 L797.2,150.5 L803,148 Z" fill="#000" stroke="#000" stroke-width="0.6" shape-rendering="geometricPrecision"/>
<path d="M803,142.1 L808.4,150.2 L803,148 Z" fill="#fff" stroke="#7a9ac8" stroke-width="0.7" shape-rendering="geometricPrecision"/>
<path d="M851,154.5 L845.2,163.5 L851,161 Z" fill="#000" stroke="#000" stroke-width="0.6" shape-rendering="geometricPrecision"/>
<path d="M851,155.1 L856.4,163.2 L851,161 Z" fill="#fff" stroke="#7a9ac8" stroke-width="0.7" shape-rendering="geometricPrecision"/>
<path d="M883,87.5 L877.2,96.5 L883,94 Z" fill="#000" stroke="#000" stroke-width="0.6" shape-rendering="geometricPrecision"/>
<path d="M883,88.1 L888.4,96.2 L883,94 Z" fill="#fff" stroke="#7a9ac8" stroke-width="0.7" shape-rendering="geometricPrecision"/>
<path d="M915,190.5 L909.2,199.5 L915,197 Z" fill="#000" stroke="#000" stroke-width="0.6" shape-rendering="geometricPrecision"/>
<path d="M915,191.1 L920.4,199.2 L915,197 Z" fill="#fff" stroke="#7a9ac8" stroke-width="0.7" shape-rendering="geometricPrecision"/>
<path d="M1003,339.5 L997.2,348.5 L1003,346 Z" fill="#000" stroke="#000" stroke-width="0.6" shape-rendering="geometricPrecision"/>
<path d="M1003,340.1 L1008.4,348.2 L1003,346 Z" fill="#fff" stroke="#7a9ac8" stroke-width="0.7" shape-rendering="geometricPrecision"/>
<path d="M1067,147.5 L1061.2,156.5 L1067,154 Z" fill="#000" stroke="#000" stroke-width="0.6" shape-rendering="geometricPrecision"/>
<path d="M1067,148.1 L1072.4,156.2 L1067,154 Z" fill="#fff" stroke="#7a9ac8" stroke-width="0.7" shape-rendering="geometricPrecision"/>
<path d="M43,192.5 L48.8,183.5 L43,186 Z" fill="#000" stroke="#000" stroke-width="0.6" shape-rendering="geometricPrecision"/>
<path d="M43,191.9 L37.6,183.8 L43,186 Z" fill="#fff" stroke="#7a9ac8" stroke-width="0.7" shape-rendering="geometricPrecision"/>
<path d="M115,122.5 L120.8,113.5 L115,116 Z" fill="#000" stroke="#000" stroke-width="0.6" shape-rendering="geometricPrecision"/>
<path d="M115,121.9 L109.6,113.8 L115,116 Z" fill="#fff" stroke="#7a9ac8" stroke-width="0.7" shape-rendering="geometricPrecision"/>
<path d="M163,174.5 L168.8,165.5 L163,168 Z" fill="#000" stroke="#000" stroke-width="0.6" shape-rendering="geometricPrecision"/>
<path d="M163,173.9 L157.6,165.8 L163,168 Z" fill="#fff" stroke="#7a9ac8" stroke-width="0.7" shape-rendering="geometricPrecision"/>
<path d="M203,178.5 L208.8,169.5 L203,172 Z" fill="#000" stroke="#000" stroke-width="0.6" shape-rendering="geometricPrecision"/>
<path d="M203,177.9 L197.6,169.8 L203,172 Z" fill="#fff" stroke="#7a9ac8" stroke-width="0.7" shape-rendering="geometricPrecision"/>
<path d="M227,191.5 L232.8,182.5 L227,185 Z" fill="#000" stroke="#000" stroke-width="0.6" shape-rendering="geometricPrecision"/>
<path d="M227,190.9 L221.6,182.8 L227,185 Z" fill="#fff" stroke="#7a9ac8" stroke-width="0.7" shape-rendering="geometricPrecision"/>
<path d="M275,211.5 L280.8,202.5 L275,205 Z" fill="#000" stroke="#000" stroke-width="0.6" shape-rendering="geometricPrecision"/>
<path d="M275,210.9 L269.6,202.8 L275,205 Z" fill="#fff" stroke="#7a9ac8" stroke-width="0.7" shape-rendering="geometricPrecision"/>
<path d="M299,199.5 L304.8,190.5 L299,193 Z" fill="#000" stroke="#000" stroke-width="0.6" shape-rendering="geometricPrecision"/>
<path d="M299,198.9 L293.6,190.8 L299,193 Z" fill="#fff" stroke="#7a9ac8" stroke-width="0.7" shape-rendering="geometricPrecision"/>
<path d="M323,198.5 L328.8,189.5 L323,192 Z" fill="#000" stroke="#000" stroke-width="0.6" shape-rendering="geometricPrecision"/>
<path d="M323,197.9 L317.6,189.8 L323,192 Z" fill="#fff" stroke="#7a9ac8" stroke-width="0.7" shape-rendering="geometricPrecision"/>
<path d="M347,184.5 L352.8,175.5 L347,178 Z" fill="#000" stroke="#000" stroke-width="0.6" shape-rendering="geometricPrecision"/>
<path d="M347,183.9 L341.6,175.8 L347,178 Z" fill="#fff" stroke="#7a9ac8" stroke-width="0.7" shape-rendering="geometricPrecision"/>
<path d="M379,178.5 L384.8,169.5 L379,172 Z" fill="#000" stroke="#000" stroke-width="0.6" shape-rendering="geometricPrecision"/>
<path d="M379,177.9 L373.6,169.8 L379,172 Z" fill="#fff" stroke="#7a9ac8" stroke-width="0.7" shape-rendering="geometricPrecision"/>
<path d="M467,248.5 L472.8,239.5 L467,242 Z" fill="#000" stroke="#000" stroke-width="0.6" shape-rendering="geometricPrecision"/>
<path d="M467,247.9 L461.6,239.8 L467,242 Z" fill="#fff" stroke="#7a9ac8" stroke-width="0.7" shape-rendering="geometricPrecision"/>
<path d="M515,215.5 L520.8,206.5 L515,209 Z" fill="#000" stroke="#000" stroke-width="0.6" shape-rendering="geometricPrecision"/>
<path d="M515,214.9 L509.6,206.8 L515,209 Z" fill="#fff" stroke="#7a9ac8" stroke-width="0.7" shape-rendering="geometricPrecision"/>
<path d="M539,204.5 L544.8,195.5 L539,198 Z" fill="#000" stroke="#000" stroke-width="0.6" shape-rendering="geometricPrecision"/>
<path d="M539,203.9 L533.6,195.8 L539,198 Z" fill="#fff" stroke="#7a9ac8" stroke-width="0.7" shape-rendering="geometricPrecision"/>
<path d="M611,182.5 L616.8,173.5 L611,176 Z" fill="#000" stroke="#000" stroke-width="0.6" shape-rendering="geometricPrecision"/>
<path d="M611,181.9 L605.6,173.8 L611,176 Z" fill="#fff" stroke="#7a9ac8" stroke-width="0.7" shape-rendering="geometricPrecision"/>
<path d="M651,194.5 L656.8,185.5 L651,188 Z" fill="#000" stroke="#000" stroke-width="0.6" shape-rendering="geometricPrecision"/>
<path d="M651,193.9 L645.6,185.8 L651,188 Z" fill="#fff" stroke="#7a9ac8" stroke-width="0.7" shape-rendering="geometricPrecision"/>
<path d="M691,176.5 L696.8,167.5 L691,170 Z" fill="#000" stroke="#000" stroke-width="0.6" shape-rendering="geometricPrecision"/>
<path d="M691,175.9 L685.6,167.8 L691,170 Z" fill="#fff" stroke="#7a9ac8" stroke-width="0.7" shape-rendering="geometricPrecision"/>
<path d="M715,223.5 L720.8,214.5 L715,217 Z" fill="#000" stroke="#000" stroke-width="0.6" shape-rendering="geometricPrecision"/>
<path d="M715,222.9 L709.6,214.8 L715,217 Z" fill="#fff" stroke="#7a9ac8" stroke-width="0.7" shape-rendering="geometricPrecision"/>
<path d="M755,224.5 L760.8,215.5 L755,218 Z" fill="#000" stroke="#000" stroke-width="0.6" shape-rendering="geometricPrecision"/>
<path d="M755,223.9 L749.6,215.8 L755,218 Z" fill="#fff" stroke="#7a9ac8" stroke-width="0.7" shape-rendering="geometricPrecision"/>
<path d="M779,212.5 L784.8,203.5 L779,206 Z" fill="#000" stroke="#000" stroke-width="0.6" shape-rendering="geometricPrecision"/>
<path d="M779,211.9 L773.6,203.8 L779,206 Z" fill="#fff" stroke="#7a9ac8" stroke-width="0.7" shape-rendering="geometricPrecision"/>
<path d="M819,234.5 L824.8,225.5 L819,228 Z" fill="#000" stroke="#000" stroke-width="0.6" shape-rendering="geometricPrecision"/>
<path d="M819,233.9 L813.6,225.8 L819,228 Z" fill="#fff" stroke="#7a9ac8" stroke-width="0.7" shape-rendering="geometricPrecision"/>
<path d="M859,257.5 L864.8,248.5 L859,251 Z" fill="#000" stroke="#000" stroke-width="0.6" shape-rendering="geometricPrecision"/>
<path d="M859,256.9 L853.6,248.8 L859,251 Z" fill="#fff" stroke="#7a9ac8" stroke-width="0.7" shape-rendering="geometricPrecision"/>
<path d="M971,492.5 L976.8,483.5 L971,486 Z" fill="#000" stroke="#000" stroke-width="0.6" shape-rendering="geometricPrecision"/>
<path d="M971,491.9 L965.6,483.8 L971,486 Z" fill="#fff" stroke="#7a9ac8" stroke-width="0.7" shape-rendering="geometricPrecision"/>
<path d="M1003,451.5 L1008.8,442.5 L1003,445 Z" fill="#000" stroke="#000" stroke-width="0.6" shape-rendering="geometricPrecision"/>
<path d="M1003,450.9 L997.6,442.8 L1003,445 Z" fill="#fff" stroke="#7a9ac8" stroke-width="0.7" shape-rendering="geometricPrecision"/>
<path d="M1059,345.5 L1064.8,336.5 L1059,339 Z" fill="#000" stroke="#000" stroke-width="0.6" shape-rendering="geometricPrecision"/>
<path d="M1059,344.9 L1053.6,336.8 L1059,339 Z" fill="#fff" stroke="#7a9ac8" stroke-width="0.7" shape-rendering="geometricPrecision"/>
</g>
<path d="M1122,116.5 L1130.3,123.5 L1126,123.5 L1126,134 L1118.8,134 L1118.8,123.5 L1113.8,123.5 Z" fill="none" stroke="#3cc83c" stroke-width="1.1" shape-rendering="geometricPrecision"/>
<g clip-path="url(#cs)">
<rect x="0" y="502" width="4" height="19" fill="#ff0000"/>
<rect x="8" y="505" width="4" height="16" fill="#ff0000"/>
<rect x="16" y="507" width="4" height="14" fill="#ff0000"/>
<rect x="24" y="509" width="4" height="12" fill="#ff0000"/>
<rect x="32" y="511" width="4" height="10" fill="#ff0000"/>
<rect x="40" y="513" width="4" height="8" fill="#ff0000"/>
<rect x="48" y="513" width="4" height="8" fill="#ff0000"/>
<rect x="56" y="510" width="4" height="11" fill="#008000"/>
<rect x="64" y="508" width="4" height="13" fill="#008000"/>
<rect x="72" y="503" width="4" height="18" fill="#008000"/>
<rect x="80" y="498" width="4" height="23" fill="#008000"/>
<rect x="88" y="496" width="4" height="25" fill="#008000"/>
<rect x="96" y="498" width="4" height="23" fill="#ff0000"/>
<rect x="104" y="502" width="4" height="19" fill="#ff0000"/>
<rect x="112" y="507" width="4" height="14" fill="#ff0000"/>
<rect x="120" y="511" width="4" height="10" fill="#ff0000"/>
<rect x="128" y="514" width="4" height="7" fill="#ff0000"/>
<rect x="136" y="515" width="4" height="6" fill="#ff0000"/>
<rect x="144" y="514" width="4" height="7" fill="#008000"/>
<rect x="152" y="514" width="4" height="7" fill="#008000"/>
<rect x="160" y="516" width="4" height="5" fill="#ff0000"/>
<rect x="168" y="519" width="4" height="2" fill="#ff0000"/>
<rect x="176" y="521" width="4" height="2" fill="#ff0000"/>
<rect x="184" y="521" width="4" height="6" fill="#ff0000"/>
<rect x="192" y="521" width="4" height="9" fill="#ff0000"/>
<rect x="200" y="521" width="4" height="12" fill="#ff0000"/>
<rect x="208" y="521" width="4" height="12" fill="#ff0000"/>
<rect x="216" y="521" width="4" height="12" fill="#ff0000"/>
<rect x="224" y="521" width="4" height="13" fill="#ff0000"/>
<rect x="232" y="521" width="4" height="13" fill="#ff0000"/>
<rect x="240" y="521" width="4" height="12" fill="#008000"/>
<rect x="248" y="521" width="4" height="12" fill="#ff0000"/>
<rect x="256" y="521" width="4" height="13" fill="#ff0000"/>
<rect x="264" y="521" width="4" height="14" fill="#ff0000"/>
<rect x="272" y="521" width="4" height="15" fill="#ff0000"/>
<rect x="280" y="521" width="4" height="15" fill="#ff0000"/>
<rect x="288" y="521" width="4" height="16" fill="#ff0000"/>
<rect x="296" y="521" width="4" height="16" fill="#008000"/>
<rect x="304" y="521" width="4" height="15" fill="#008000"/>
<rect x="312" y="521" width="4" height="14" fill="#008000"/>
<rect x="320" y="521" width="4" height="13" fill="#008000"/>
<rect x="328" y="521" width="4" height="12" fill="#008000"/>
<rect x="336" y="521" width="4" height="10" fill="#008000"/>
<rect x="344" y="521" width="4" height="9" fill="#008000"/>
<rect x="352" y="521" width="4" height="7" fill="#008000"/>
<rect x="360" y="521" width="4" height="5" fill="#008000"/>
<rect x="368" y="521" width="4" height="5" fill="#008000"/>
<rect x="376" y="521" width="4" height="4" fill="#008000"/>
<rect x="384" y="521" width="4" height="3" fill="#008000"/>
<rect x="392" y="521" width="4" height="1" fill="#008000"/>
<rect x="400" y="520" width="4" height="1" fill="#008000"/>
<rect x="408" y="518" width="4" height="3" fill="#008000"/>
<rect x="416" y="516" width="4" height="5" fill="#008000"/>
<rect x="424" y="515" width="4" height="6" fill="#008000"/>
<rect x="432" y="517" width="4" height="4" fill="#ff0000"/>
<rect x="440" y="520" width="4" height="1" fill="#ff0000"/>
<rect x="448" y="521" width="4" height="3" fill="#ff0000"/>
<rect x="456" y="521" width="4" height="6" fill="#ff0000"/>
<rect x="464" y="521" width="4" height="9" fill="#ff0000"/>
<rect x="472" y="521" width="4" height="11" fill="#ff0000"/>
<rect x="480" y="521" width="4" height="10" fill="#008000"/>
<rect x="488" y="521" width="4" height="8" fill="#008000"/>
<rect x="496" y="521" width="4" height="6" fill="#008000"/>
<rect x="504" y="521" width="4" height="3" fill="#008000"/>
<rect x="512" y="521" width="4" height="1" fill="#008000"/>
<rect x="520" y="519" width="4" height="2" fill="#008000"/>
<rect x="528" y="518" width="4" height="3" fill="#008000"/>
<rect x="536" y="518" width="4" height="3" fill="#ff0000"/>
<rect x="544" y="518" width="4" height="3" fill="#008000"/>
<rect x="552" y="516" width="4" height="5" fill="#008000"/>
<rect x="560" y="516" width="4" height="5" fill="#008000"/>
<rect x="568" y="515" width="4" height="6" fill="#008000"/>
<rect x="576" y="514" width="4" height="7" fill="#008000"/>
<rect x="584" y="514" width="4" height="7" fill="#ff0000"/>
<rect x="592" y="515" width="4" height="6" fill="#ff0000"/>
<rect x="600" y="516" width="4" height="5" fill="#ff0000"/>
<rect x="608" y="517" width="4" height="4" fill="#ff0000"/>
<rect x="616" y="517" width="4" height="4" fill="#008000"/>
<rect x="624" y="517" width="4" height="4" fill="#ff0000"/>
<rect x="632" y="518" width="4" height="3" fill="#ff0000"/>
<rect x="640" y="519" width="4" height="2" fill="#ff0000"/>
<rect x="648" y="520" width="4" height="1" fill="#ff0000"/>
<rect x="656" y="521" width="4" height="1" fill="#ff0000"/>
<rect x="664" y="519" width="4" height="2" fill="#008000"/>
<rect x="672" y="516" width="4" height="5" fill="#008000"/>
<rect x="680" y="513" width="4" height="8" fill="#008000"/>
<rect x="688" y="511" width="4" height="10" fill="#008000"/>
<rect x="696" y="512" width="4" height="9" fill="#ff0000"/>
<rect x="704" y="513" width="4" height="8" fill="#ff0000"/>
<rect x="712" y="517" width="4" height="4" fill="#ff0000"/>
<rect x="720" y="520" width="4" height="1" fill="#ff0000"/>
<rect x="728" y="521" width="4" height="2" fill="#ff0000"/>
<rect x="736" y="521" width="4" height="5" fill="#ff0000"/>
<rect x="744" y="521" width="4" height="9" fill="#ff0000"/>
<rect x="752" y="521" width="4" height="11" fill="#ff0000"/>
<rect x="760" y="521" width="4" height="12" fill="#ff0000"/>
<rect x="768" y="521" width="4" height="11" fill="#008000"/>
<rect x="776" y="521" width="4" height="10" fill="#008000"/>
<rect x="784" y="521" width="4" height="10" fill="#008000"/>
<rect x="792" y="521" width="4" height="9" fill="#008000"/>
<rect x="800" y="521" width="4" height="8" fill="#008000"/>
<rect x="808" y="521" width="4" height="7" fill="#008000"/>
<rect x="816" y="521" width="4" height="7" fill="#ff0000"/>
<rect x="824" y="521" width="4" height="7" fill="#008000"/>
<rect x="832" y="521" width="4" height="7" fill="#ff0000"/>
<rect x="840" y="521" width="4" height="9" fill="#ff0000"/>
<rect x="848" y="521" width="4" height="9" fill="#ff0000"/>
<rect x="856" y="521" width="4" height="9" fill="#ff0000"/>
<rect x="864" y="521" width="4" height="10" fill="#ff0000"/>
<rect x="872" y="521" width="4" height="7" fill="#008000"/>
<rect x="880" y="521" width="4" height="4" fill="#008000"/>
<rect x="888" y="521" width="4" height="3" fill="#008000"/>
<rect x="896" y="521" width="4" height="3" fill="#008000"/>
<rect x="904" y="521" width="4" height="3" fill="#ff0000"/>
<rect x="912" y="521" width="4" height="6" fill="#ff0000"/>
<rect x="920" y="521" width="4" height="19" fill="#ff0000"/>
<rect x="928" y="521" width="4" height="30" fill="#ff0000"/>
<rect x="936" y="521" width="4" height="38" fill="#ff0000"/>
<rect x="944" y="521" width="4" height="47" fill="#ff0000"/>
<rect x="952" y="521" width="4" height="57" fill="#ff0000"/>
<rect x="960" y="521" width="4" height="60" fill="#ff0000"/>
<rect x="968" y="521" width="4" height="61" fill="#ff0000"/>
<rect x="976" y="521" width="4" height="60" fill="#008000"/>
<rect x="984" y="521" width="4" height="58" fill="#008000"/>
<rect x="992" y="521" width="4" height="54" fill="#008000"/>
<rect x="1000" y="521" width="4" height="48" fill="#008000"/>
<rect x="1008" y="521" width="4" height="42" fill="#008000"/>
<rect x="1016" y="521" width="4" height="37" fill="#008000"/>
<rect x="1024" y="521" width="4" height="33" fill="#008000"/>
<rect x="1032" y="521" width="4" height="27" fill="#008000"/>
<rect x="1040" y="521" width="4" height="19" fill="#008000"/>
<rect x="1048" y="521" width="4" height="13" fill="#008000"/>
<rect x="1056" y="521" width="4" height="4" fill="#008000"/>
<rect x="1064" y="515" width="4" height="6" fill="#008000"/>
<rect x="1072" y="507" width="4" height="14" fill="#008000"/>
<rect x="1080" y="503" width="4" height="18" fill="#008000"/>
<rect x="1088" y="499" width="4" height="22" fill="#008000"/>
<rect x="1096" y="497" width="4" height="24" fill="#008000"/>
<rect x="1104" y="495" width="4" height="26" fill="#008000"/>
<rect x="0" y="641" width="4" height="19" fill="#008000"/>
<rect x="8" y="641" width="4" height="16" fill="#008000"/>
<rect x="16" y="641" width="4" height="14" fill="#008000"/>
<rect x="24" y="641" width="4" height="9" fill="#008000"/>
<rect x="32" y="641" width="4" height="9" fill="#008000"/>
<rect x="40" y="641" width="4" height="9" fill="#ff0000"/>
<rect x="48" y="641" width="4" height="6" fill="#008000"/>
<rect x="56" y="639" width="4" height="2" fill="#008000"/>
<rect x="64" y="632" width="4" height="9" fill="#008000"/>
<rect x="72" y="626" width="4" height="15" fill="#008000"/>
<rect x="80" y="622" width="4" height="19" fill="#008000"/>
<rect x="88" y="625" width="4" height="16" fill="#ff0000"/>
<rect x="96" y="636" width="4" height="5" fill="#ff0000"/>
<rect x="104" y="641" width="4" height="6" fill="#ff0000"/>
<rect x="112" y="641" width="4" height="15" fill="#ff0000"/>
<rect x="120" y="641" width="4" height="19" fill="#ff0000"/>
<rect x="128" y="641" width="4" height="18" fill="#008000"/>
<rect x="136" y="641" width="4" height="11" fill="#008000"/>
<rect x="144" y="641" width="4" height="5" fill="#008000"/>
<rect x="152" y="641" width="4" height="1" fill="#008000"/>
<rect x="160" y="641" width="4" height="3" fill="#ff0000"/>
<rect x="168" y="641" width="4" height="7" fill="#ff0000"/>
<rect x="176" y="641" width="4" height="13" fill="#ff0000"/>
<rect x="184" y="641" width="4" height="17" fill="#ff0000"/>
<rect x="192" y="641" width="4" height="18" fill="#ff0000"/>
<rect x="200" y="641" width="4" height="15" fill="#008000"/>
<rect x="208" y="641" width="4" height="9" fill="#008000"/>
<rect x="216" y="641" width="4" height="5" fill="#008000"/>
<rect x="224" y="641" width="4" height="1" fill="#008000"/>
<rect x="232" y="641" width="4" height="1" fill="#008000"/>
<rect x="240" y="641" width="4" height="1" fill="#008000"/>
<rect x="248" y="641" width="4" height="1" fill="#ff0000"/>
<rect x="256" y="641" width="4" height="1" fill="#ff0000"/>
<rect x="264" y="641" width="4" height="3" fill="#ff0000"/>
<rect x="272" y="641" width="4" height="4" fill="#ff0000"/>
<rect x="280" y="641" width="4" height="4" fill="#008000"/>
<rect x="288" y="641" width="4" height="3" fill="#008000"/>
<rect x="296" y="641" width="4" height="1" fill="#ff0000"/>
<rect x="304" y="640" width="4" height="1" fill="#008000"/>
<rect x="312" y="638" width="4" height="3" fill="#008000"/>
<rect x="320" y="638" width="4" height="3" fill="#008000"/>
<rect x="328" y="637" width="4" height="4" fill="#008000"/>
<rect x="336" y="636" width="4" height="5" fill="#008000"/>
<rect x="344" y="635" width="4" height="6" fill="#008000"/>
<rect x="352" y="634" width="4" height="7" fill="#008000"/>
<rect x="360" y="634" width="4" height="7" fill="#008000"/>
<rect x="368" y="636" width="4" height="5" fill="#ff0000"/>
<rect x="376" y="637" width="4" height="4" fill="#ff0000"/>
<rect x="384" y="636" width="4" height="5" fill="#008000"/>
<rect x="392" y="635" width="4" height="6" fill="#008000"/>
<rect x="400" y="634" width="4" height="7" fill="#008000"/>
<rect x="408" y="633" width="4" height="8" fill="#008000"/>
<rect x="416" y="632" width="4" height="9" fill="#008000"/>
<rect x="424" y="635" width="4" height="6" fill="#ff0000"/>
<rect x="432" y="641" width="4" height="1" fill="#ff0000"/>
<rect x="440" y="641" width="4" height="6" fill="#ff0000"/>
<rect x="448" y="641" width="4" height="11" fill="#ff0000"/>
<rect x="456" y="641" width="4" height="14" fill="#ff0000"/>
<rect x="464" y="641" width="4" height="14" fill="#ff0000"/>
<rect x="472" y="641" width="4" height="12" fill="#008000"/>
<rect x="480" y="641" width="4" height="5" fill="#008000"/>
<rect x="488" y="640" width="4" height="1" fill="#008000"/>
<rect x="496" y="635" width="4" height="6" fill="#008000"/>
<rect x="504" y="631" width="4" height="10" fill="#008000"/>
<rect x="512" y="628" width="4" height="13" fill="#008000"/>
<rect x="520" y="629" width="4" height="12" fill="#ff0000"/>
<rect x="528" y="633" width="4" height="8" fill="#ff0000"/>
<rect x="536" y="638" width="4" height="3" fill="#ff0000"/>
<rect x="544" y="640" width="4" height="1" fill="#ff0000"/>
<rect x="552" y="638" width="4" height="3" fill="#008000"/>
<rect x="560" y="638" width="4" height="3" fill="#ff0000"/>
<rect x="568" y="638" width="4" height="3" fill="#ff0000"/>
<rect x="576" y="637" width="4" height="4" fill="#008000"/>
<rect x="584" y="639" width="4" height="2" fill="#ff0000"/>
<rect x="592" y="641" width="4" height="1" fill="#ff0000"/>
<rect x="600" y="641" width="4" height="3" fill="#ff0000"/>
<rect x="608" y="641" width="4" height="4" fill="#ff0000"/>
<rect x="616" y="641" width="4" height="3" fill="#008000"/>
<rect x="624" y="641" width="4" height="2" fill="#008000"/>
<rect x="632" y="641" width="4" height="3" fill="#ff0000"/>
<rect x="640" y="641" width="4" height="3" fill="#ff0000"/>
<rect x="648" y="641" width="4" height="4" fill="#ff0000"/>
<rect x="656" y="641" width="4" height="3" fill="#008000"/>
<rect x="664" y="640" width="4" height="1" fill="#008000"/>
<rect x="672" y="634" width="4" height="7" fill="#008000"/>
<rect x="680" y="630" width="4" height="11" fill="#008000"/>
<rect x="688" y="631" width="4" height="10" fill="#ff0000"/>
<rect x="696" y="635" width="4" height="6" fill="#ff0000"/>
<rect x="704" y="641" width="4" height="1" fill="#ff0000"/>
<rect x="712" y="641" width="4" height="8" fill="#ff0000"/>
<rect x="720" y="641" width="4" height="12" fill="#ff0000"/>
<rect x="728" y="641" width="4" height="14" fill="#ff0000"/>
<rect x="736" y="641" width="4" height="15" fill="#ff0000"/>
<rect x="744" y="641" width="4" height="16" fill="#ff0000"/>
<rect x="752" y="641" width="4" height="13" fill="#008000"/>
<rect x="760" y="641" width="4" height="8" fill="#008000"/>
<rect x="768" y="641" width="4" height="2" fill="#008000"/>
<rect x="776" y="640" width="4" height="1" fill="#008000"/>
<rect x="784" y="640" width="4" height="1" fill="#008000"/>
<rect x="792" y="638" width="4" height="3" fill="#008000"/>
<rect x="800" y="637" width="4" height="4" fill="#008000"/>
<rect x="808" y="637" width="4" height="4" fill="#ff0000"/>
<rect x="816" y="639" width="4" height="2" fill="#ff0000"/>
<rect x="824" y="639" width="4" height="2" fill="#ff0000"/>
<rect x="832" y="641" width="4" height="1" fill="#ff0000"/>
<rect x="840" y="641" width="4" height="3" fill="#ff0000"/>
<rect x="848" y="641" width="4" height="2" fill="#008000"/>
<rect x="856" y="641" width="4" height="2" fill="#008000"/>
<rect x="864" y="641" width="4" height="2" fill="#ff0000"/>
<rect x="872" y="638" width="4" height="3" fill="#008000"/>
<rect x="880" y="632" width="4" height="9" fill="#008000"/>
<rect x="888" y="633" width="4" height="8" fill="#ff0000"/>
<rect x="896" y="635" width="4" height="6" fill="#ff0000"/>
<rect x="904" y="639" width="4" height="2" fill="#ff0000"/>
<rect x="912" y="641" width="4" height="6" fill="#ff0000"/>
<rect x="920" y="641" width="4" height="28" fill="#ff0000"/>
<rect x="928" y="641" width="4" height="39" fill="#ff0000"/>
<rect x="936" y="641" width="4" height="41" fill="#ff0000"/>
<rect x="944" y="641" width="4" height="42" fill="#ff0000"/>
<rect x="952" y="641" width="4" height="41" fill="#008000"/>
<rect x="960" y="641" width="4" height="29" fill="#008000"/>
<rect x="968" y="641" width="4" height="18" fill="#008000"/>
<rect x="976" y="641" width="4" height="7" fill="#008000"/>
<rect x="984" y="638" width="4" height="3" fill="#008000"/>
<rect x="992" y="632" width="4" height="9" fill="#008000"/>
<rect x="1000" y="623" width="4" height="18" fill="#008000"/>
<rect x="1008" y="619" width="4" height="22" fill="#008000"/>
<rect x="1016" y="617" width="4" height="24" fill="#008000"/>
<rect x="1024" y="619" width="4" height="22" fill="#ff0000"/>
<rect x="1032" y="617" width="4" height="24" fill="#008000"/>
<rect x="1040" y="614" width="4" height="27" fill="#008000"/>
<rect x="1048" y="613" width="4" height="28" fill="#008000"/>
<rect x="1056" y="608" width="4" height="33" fill="#008000"/>
<rect x="1064" y="602" width="4" height="39" fill="#008000"/>
<rect x="1072" y="604" width="4" height="37" fill="#ff0000"/>
<rect x="1080" y="611" width="4" height="30" fill="#ff0000"/>
<rect x="1088" y="617" width="4" height="24" fill="#ff0000"/>
<rect x="1096" y="625" width="4" height="16" fill="#ff0000"/>
<rect x="1104" y="630" width="4" height="11" fill="#ff0000"/>
<rect x="0" y="714" width="4" height="24" fill="#ff0000"/>
<rect x="8" y="716" width="4" height="22" fill="#ff0000"/>
<rect x="16" y="719" width="4" height="19" fill="#ff0000"/>
<rect x="24" y="721" width="4" height="17" fill="#ff0000"/>
<rect x="32" y="723" width="4" height="15" fill="#ff0000"/>
<rect x="40" y="725" width="4" height="13" fill="#ff0000"/>
<rect x="48" y="726" width="4" height="12" fill="#ff0000"/>
<rect x="56" y="727" width="4" height="11" fill="#ff0000"/>
<rect x="64" y="728" width="4" height="10" fill="#ff0000"/>
<rect x="72" y="730" width="4" height="8" fill="#ff0000"/>
<rect x="80" y="730" width="4" height="8" fill="#ff0000"/>
<rect x="88" y="730" width="4" height="8" fill="#008000"/>
<rect x="96" y="726" width="4" height="12" fill="#008000"/>
<rect x="104" y="723" width="4" height="15" fill="#008000"/>
<rect x="112" y="720" width="4" height="18" fill="#008000"/>
<rect x="120" y="720" width="4" height="18" fill="#008000"/>
<rect x="128" y="720" width="4" height="18" fill="#008000"/>
<rect x="136" y="722" width="4" height="16" fill="#ff0000"/>
<rect x="144" y="725" width="4" height="13" fill="#ff0000"/>
<rect x="152" y="728" width="4" height="10" fill="#ff0000"/>
<rect x="160" y="729" width="4" height="9" fill="#ff0000"/>
<rect x="168" y="729" width="4" height="9" fill="#ff0000"/>
<rect x="176" y="729" width="4" height="9" fill="#ff0000"/>
<rect x="184" y="728" width="4" height="10" fill="#008000"/>
<rect x="192" y="728" width="4" height="10" fill="#008000"/>
<rect x="200" y="731" width="4" height="7" fill="#ff0000"/>
<rect x="208" y="734" width="4" height="4" fill="#ff0000"/>
<rect x="216" y="737" width="4" height="1" fill="#ff0000"/>
<rect x="224" y="736" width="4" height="2" fill="#ff0000"/>
<rect x="232" y="735" width="4" height="3" fill="#008000"/>
<rect x="240" y="734" width="4" height="4" fill="#008000"/>
<rect x="248" y="733" width="4" height="5" fill="#008000"/>
<rect x="256" y="733" width="4" height="5" fill="#008000"/>
<rect x="264" y="733" width="4" height="5" fill="#008000"/>
<rect x="272" y="732" width="4" height="6" fill="#008000"/>
<rect x="280" y="732" width="4" height="6" fill="#008000"/>
<rect x="288" y="732" width="4" height="6" fill="#008000"/>
<rect x="296" y="732" width="4" height="6" fill="#ff0000"/>
<rect x="304" y="731" width="4" height="7" fill="#008000"/>
<rect x="312" y="730" width="4" height="8" fill="#008000"/>
<rect x="320" y="730" width="4" height="8" fill="#ff0000"/>
<rect x="328" y="731" width="4" height="7" fill="#ff0000"/>
<rect x="336" y="732" width="4" height="6" fill="#ff0000"/>
<rect x="344" y="732" width="4" height="6" fill="#ff0000"/>
<rect x="352" y="732" width="4" height="6" fill="#ff0000"/>
<rect x="360" y="732" width="4" height="6" fill="#ff0000"/>
<rect x="368" y="733" width="4" height="5" fill="#ff0000"/>
<rect x="376" y="734" width="4" height="4" fill="#ff0000"/>
<rect x="384" y="735" width="4" height="3" fill="#ff0000"/>
<rect x="392" y="735" width="4" height="3" fill="#ff0000"/>
<rect x="400" y="735" width="4" height="3" fill="#ff0000"/>
<rect x="408" y="735" width="4" height="3" fill="#ff0000"/>
<rect x="416" y="736" width="4" height="2" fill="#ff0000"/>
<rect x="424" y="737" width="4" height="1" fill="#ff0000"/>
<rect x="432" y="738" width="4" height="1" fill="#ff0000"/>
<rect x="440" y="738" width="4" height="1" fill="#008000"/>
<rect x="448" y="737" width="4" height="1" fill="#008000"/>
<rect x="456" y="736" width="4" height="2" fill="#008000"/>
<rect x="464" y="737" width="4" height="1" fill="#ff0000"/>
<rect x="472" y="737" width="4" height="1" fill="#ff0000"/>
<rect x="480" y="735" width="4" height="3" fill="#008000"/>
<rect x="488" y="733" width="4" height="5" fill="#008000"/>
<rect x="496" y="732" width="4" height="6" fill="#008000"/>
<rect x="504" y="732" width="4" height="6" fill="#008000"/>
<rect x="512" y="730" width="4" height="8" fill="#008000"/>
<rect x="520" y="731" width="4" height="7" fill="#ff0000"/>
<rect x="528" y="733" width="4" height="5" fill="#ff0000"/>
<rect x="536" y="735" width="4" height="3" fill="#ff0000"/>
<rect x="544" y="737" width="4" height="1" fill="#ff0000"/>
<rect x="552" y="737" width="4" height="1" fill="#ff0000"/>
<rect x="560" y="738" width="4" height="1" fill="#ff0000"/>
<rect x="568" y="738" width="4" height="1" fill="#ff0000"/>
<rect x="576" y="738" width="4" height="1" fill="#008000"/>
<rect x="584" y="737" width="4" height="1" fill="#008000"/>
<rect x="592" y="736" width="4" height="2" fill="#008000"/>
<rect x="600" y="735" width="4" height="3" fill="#008000"/>
<rect x="608" y="735" width="4" height="3" fill="#008000"/>
<rect x="616" y="735" width="4" height="3" fill="#ff0000"/>
<rect x="624" y="735" width="4" height="3" fill="#ff0000"/>
<rect x="632" y="735" width="4" height="3" fill="#ff0000"/>
<rect x="640" y="736" width="4" height="2" fill="#ff0000"/>
<rect x="648" y="737" width="4" height="1" fill="#ff0000"/>
<rect x="656" y="736" width="4" height="2" fill="#008000"/>
<rect x="664" y="736" width="4" height="2" fill="#008000"/>
<rect x="672" y="737" width="4" height="1" fill="#ff0000"/>
<rect x="680" y="738" width="4" height="1" fill="#ff0000"/>
<rect x="688" y="737" width="4" height="1" fill="#008000"/>
<rect x="696" y="738" width="4" height="1" fill="#ff0000"/>
<rect x="704" y="736" width="4" height="2" fill="#008000"/>
<rect x="712" y="733" width="4" height="5" fill="#008000"/>
<rect x="720" y="733" width="4" height="5" fill="#008000"/>
<rect x="728" y="734" width="4" height="4" fill="#ff0000"/>
<rect x="736" y="736" width="4" height="2" fill="#ff0000"/>
<rect x="744" y="736" width="4" height="2" fill="#ff0000"/>
<rect x="752" y="737" width="4" height="1" fill="#ff0000"/>
<rect x="760" y="737" width="4" height="1" fill="#ff0000"/>
<rect x="768" y="734" width="4" height="4" fill="#008000"/>
<rect x="776" y="733" width="4" height="5" fill="#008000"/>
<rect x="784" y="733" width="4" height="5" fill="#008000"/>
<rect x="792" y="732" width="4" height="6" fill="#008000"/>
<rect x="800" y="733" width="4" height="5" fill="#ff0000"/>
<rect x="808" y="733" width="4" height="5" fill="#008000"/>
<rect x="816" y="733" width="4" height="5" fill="#ff0000"/>
<rect x="824" y="733" width="4" height="5" fill="#ff0000"/>
<rect x="832" y="733" width="4" height="5" fill="#ff0000"/>
<rect x="840" y="735" width="4" height="3" fill="#ff0000"/>
<rect x="848" y="735" width="4" height="3" fill="#ff0000"/>
<rect x="856" y="734" width="4" height="4" fill="#008000"/>
<rect x="864" y="733" width="4" height="5" fill="#008000"/>
<rect x="872" y="733" width="4" height="5" fill="#008000"/>
<rect x="880" y="733" width="4" height="5" fill="#ff0000"/>
<rect x="888" y="733" width="4" height="5" fill="#ff0000"/>
<rect x="896" y="733" width="4" height="5" fill="#008000"/>
<rect x="904" y="732" width="4" height="6" fill="#008000"/>
<rect x="912" y="734" width="4" height="4" fill="#ff0000"/>
<rect x="920" y="738" width="4" height="1" fill="#ff0000"/>
<rect x="928" y="737" width="4" height="1" fill="#008000"/>
<rect x="936" y="736" width="4" height="2" fill="#008000"/>
<rect x="944" y="733" width="4" height="5" fill="#008000"/>
<rect x="952" y="731" width="4" height="7" fill="#008000"/>
<rect x="960" y="724" width="4" height="14" fill="#008000"/>
<rect x="968" y="717" width="4" height="21" fill="#008000"/>
<rect x="976" y="710" width="4" height="28" fill="#008000"/>
<rect x="984" y="708" width="4" height="30" fill="#008000"/>
<rect x="992" y="706" width="4" height="32" fill="#008000"/>
<rect x="1000" y="704" width="4" height="34" fill="#008000"/>
<rect x="1008" y="703" width="4" height="35" fill="#008000"/>
<rect x="1016" y="703" width="4" height="35" fill="#ff0000"/>
<rect x="1024" y="706" width="4" height="32" fill="#ff0000"/>
<rect x="1032" y="709" width="4" height="29" fill="#ff0000"/>
<rect x="1040" y="712" width="4" height="26" fill="#ff0000"/>
<rect x="1048" y="715" width="4" height="23" fill="#ff0000"/>
<rect x="1056" y="717" width="4" height="21" fill="#ff0000"/>
<rect x="1064" y="719" width="4" height="19" fill="#ff0000"/>
<rect x="1072" y="723" width="4" height="15" fill="#ff0000"/>
<rect x="1080" y="728" width="4" height="10" fill="#ff0000"/>
<rect x="1088" y="732" width="4" height="6" fill="#ff0000"/>
<rect x="1096" y="737" width="4" height="1" fill="#ff0000"/>
<rect x="1104" y="734" width="4" height="4" fill="#008000"/>
<rect x="1112" y="730" width="4" height="8" fill="#008000"/>
<rect x="1120" y="729" width="4" height="9" fill="#008000"/>
<rect x="1128" y="729" width="4" height="9" fill="#008000"/>
<rect x="1136" y="728" width="4" height="10" fill="#008000"/>
<rect x="1144" y="725" width="4" height="13" fill="#008000"/>
<rect x="0" y="738" width="4" height="8" fill="#ff0000"/>
<rect x="8" y="738" width="4" height="6" fill="#ff0000"/>
<rect x="16" y="738" width="4" height="3" fill="#ff0000"/>
<rect x="24" y="738" width="4" height="2" fill="#ff0000"/>
<rect x="32" y="738" width="4" height="2" fill="#ff0000"/>
<rect x="40" y="738" width="4" height="1" fill="#ff0000"/>
<rect x="48" y="738" width="4" height="1" fill="#ff0000"/>
<rect x="56" y="738" width="4" height="1" fill="#ff0000"/>
<rect x="64" y="738" width="4" height="1" fill="#008000"/>
<rect x="72" y="738" width="4" height="2" fill="#008000"/>
<rect x="80" y="738" width="4" height="8" fill="#008000"/>
<rect x="88" y="738" width="4" height="12" fill="#008000"/>
<rect x="96" y="738" width="4" height="13" fill="#008000"/>
<rect x="104" y="738" width="4" height="14" fill="#008000"/>
<rect x="112" y="738" width="4" height="12" fill="#ff0000"/>
<rect x="120" y="738" width="4" height="9" fill="#ff0000"/>
<rect x="128" y="738" width="4" height="5" fill="#ff0000"/>
<rect x="136" y="738" width="4" height="3" fill="#ff0000"/>
<rect x="144" y="738" width="4" height="1" fill="#ff0000"/>
<rect x="152" y="738" width="4" height="1" fill="#ff0000"/>
<rect x="160" y="738" width="4" height="3" fill="#008000"/>
<rect x="168" y="738" width="4" height="4" fill="#008000"/>
<rect x="176" y="738" width="4" height="4" fill="#ff0000"/>
<rect x="184" y="738" width="4" height="1" fill="#ff0000"/>
<rect x="192" y="738" width="4" height="4" fill="#008000"/>
<rect x="200" y="738" width="4" height="5" fill="#008000"/>
<rect x="208" y="738" width="4" height="7" fill="#008000"/>
<rect x="216" y="738" width="4" height="8" fill="#008000"/>
<rect x="224" y="738" width="4" height="8" fill="#008000"/>
<rect x="232" y="738" width="4" height="8" fill="#ff0000"/>
<rect x="240" y="738" width="4" height="7" fill="#ff0000"/>
<rect x="248" y="738" width="4" height="7" fill="#008000"/>
<rect x="256" y="738" width="4" height="8" fill="#008000"/>
<rect x="264" y="738" width="4" height="7" fill="#ff0000"/>
<rect x="272" y="738" width="4" height="5" fill="#ff0000"/>
<rect x="280" y="738" width="4" height="6" fill="#008000"/>
<rect x="288" y="738" width="4" height="8" fill="#008000"/>
<rect x="296" y="738" width="4" height="8" fill="#008000"/>
<rect x="304" y="738" width="4" height="6" fill="#ff0000"/>
<rect x="312" y="738" width="4" height="6" fill="#ff0000"/>
<rect x="320" y="738" width="4" height="4" fill="#ff0000"/>
<rect x="328" y="738" width="4" height="4" fill="#008000"/>
<rect x="336" y="738" width="4" height="4" fill="#ff0000"/>
<rect x="344" y="738" width="4" height="3" fill="#ff0000"/>
<rect x="352" y="738" width="4" height="2" fill="#ff0000"/>
<rect x="360" y="738" width="4" height="1" fill="#ff0000"/>
<rect x="368" y="738" width="4" height="1" fill="#008000"/>
<rect x="376" y="738" width="4" height="1" fill="#ff0000"/>
<rect x="384" y="738" width="4" height="1" fill="#ff0000"/>
<rect x="392" y="738" width="4" height="1" fill="#ff0000"/>
<rect x="400" y="738" width="4" height="1" fill="#ff0000"/>
<rect x="408" y="738" width="4" height="1" fill="#008000"/>
<rect x="416" y="738" width="4" height="2" fill="#008000"/>
<rect x="424" y="738" width="4" height="3" fill="#008000"/>
<rect x="432" y="738" width="4" height="3" fill="#008000"/>
<rect x="440" y="738" width="4" height="4" fill="#008000"/>
<rect x="448" y="738" width="4" height="2" fill="#ff0000"/>
<rect x="456" y="738" width="4" height="1" fill="#ff0000"/>
<rect x="464" y="738" width="4" height="5" fill="#008000"/>
<rect x="472" y="738" width="4" height="6" fill="#008000"/>
<rect x="480" y="738" width="4" height="6" fill="#008000"/>
<rect x="488" y="738" width="4" height="7" fill="#008000"/>
<rect x="496" y="738" width="4" height="8" fill="#008000"/>
<rect x="504" y="738" width="4" height="6" fill="#ff0000"/>
<rect x="512" y="738" width="4" height="2" fill="#ff0000"/>
<rect x="520" y="738" width="4" height="1" fill="#ff0000"/>
<rect x="528" y="738" width="4" height="1" fill="#008000"/>
<rect x="536" y="738" width="4" height="1" fill="#ff0000"/>
<rect x="544" y="738" width="4" height="1" fill="#008000"/>
<rect x="552" y="738" width="4" height="3" fill="#008000"/>
<rect x="560" y="738" width="4" height="2" fill="#ff0000"/>
<rect x="568" y="738" width="4" height="2" fill="#008000"/>
<rect x="576" y="738" width="4" height="5" fill="#008000"/>
<rect x="584" y="738" width="4" height="5" fill="#ff0000"/>
<rect x="592" y="738" width="4" height="4" fill="#ff0000"/>
<rect x="600" y="738" width="4" height="4" fill="#ff0000"/>
<rect x="608" y="738" width="4" height="3" fill="#ff0000"/>
<rect x="616" y="738" width="4" height="2" fill="#ff0000"/>
<rect x="624" y="738" width="4" height="1" fill="#ff0000"/>
<rect x="632" y="738" width="4" height="1" fill="#ff0000"/>
<rect x="640" y="738" width="4" height="2" fill="#008000"/>
<rect x="648" y="738" width="4" height="2" fill="#ff0000"/>
<rect x="656" y="738" width="4" height="1" fill="#ff0000"/>
<rect x="664" y="738" width="4" height="2" fill="#008000"/>
<rect x="672" y="738" width="4" height="3" fill="#008000"/>
<rect x="680" y="738" width="4" height="1" fill="#ff0000"/>
<rect x="688" y="738" width="4" height="4" fill="#008000"/>
<rect x="696" y="738" width="4" height="6" fill="#008000"/>
<rect x="704" y="738" width="4" height="5" fill="#ff0000"/>
<rect x="712" y="738" width="4" height="2" fill="#ff0000"/>
<rect x="720" y="738" width="4" height="1" fill="#ff0000"/>
<rect x="728" y="738" width="4" height="2" fill="#008000"/>
<rect x="736" y="738" width="4" height="1" fill="#ff0000"/>
<rect x="744" y="738" width="4" height="3" fill="#008000"/>
<rect x="752" y="738" width="4" height="6" fill="#008000"/>
<rect x="760" y="738" width="4" height="7" fill="#008000"/>
<rect x="768" y="738" width="4" height="6" fill="#ff0000"/>
<rect x="776" y="738" width="4" height="7" fill="#008000"/>
<rect x="784" y="738" width="4" height="6" fill="#ff0000"/>
<rect x="792" y="738" width="4" height="5" fill="#ff0000"/>
<rect x="800" y="738" width="4" height="5" fill="#008000"/>
<rect x="808" y="738" width="4" height="5" fill="#ff0000"/>
<rect x="816" y="738" width="4" height="4" fill="#ff0000"/>
<rect x="824" y="738" width="4" height="2" fill="#ff0000"/>
<rect x="832" y="738" width="4" height="1" fill="#ff0000"/>
<rect x="840" y="738" width="4" height="4" fill="#008000"/>
<rect x="848" y="738" width="4" height="4" fill="#008000"/>
<rect x="856" y="738" width="4" height="4" fill="#ff0000"/>
<rect x="864" y="738" width="4" height="4" fill="#008000"/>
<rect x="872" y="738" width="4" height="3" fill="#ff0000"/>
<rect x="880" y="738" width="4" height="4" fill="#008000"/>
<rect x="888" y="738" width="4" height="5" fill="#008000"/>
<rect x="896" y="738" width="4" height="1" fill="#ff0000"/>
<rect x="904" y="738" width="4" height="4" fill="#008000"/>
<rect x="912" y="738" width="4" height="3" fill="#ff0000"/>
<rect x="920" y="738" width="4" height="3" fill="#008000"/>
<rect x="928" y="738" width="4" height="6" fill="#008000"/>
<rect x="936" y="738" width="4" height="6" fill="#ff0000"/>
<rect x="944" y="738" width="4" height="18" fill="#008000"/>
<rect x="952" y="738" width="4" height="27" fill="#008000"/>
<rect x="960" y="738" width="4" height="30" fill="#008000"/>
<rect x="968" y="738" width="4" height="31" fill="#008000"/>
<rect x="976" y="738" width="4" height="32" fill="#008000"/>
<rect x="984" y="738" width="4" height="33" fill="#008000"/>
<rect x="992" y="738" width="4" height="32" fill="#ff0000"/>
<rect x="1000" y="738" width="4" height="29" fill="#ff0000"/>
<rect x="1008" y="738" width="4" height="25" fill="#ff0000"/>
<rect x="1016" y="738" width="4" height="20" fill="#ff0000"/>
<rect x="1024" y="738" width="4" height="16" fill="#ff0000"/>
<rect x="1032" y="738" width="4" height="13" fill="#ff0000"/>
<rect x="1040" y="738" width="4" height="10" fill="#ff0000"/>
<rect x="1048" y="738" width="4" height="8" fill="#ff0000"/>
<rect x="1056" y="738" width="4" height="3" fill="#ff0000"/>
<rect x="1064" y="738" width="4" height="4" fill="#008000"/>
<rect x="1072" y="738" width="4" height="7" fill="#008000"/>
<rect x="1080" y="738" width="4" height="12" fill="#008000"/>
<rect x="1088" y="738" width="4" height="18" fill="#008000"/>
<rect x="1096" y="738" width="4" height="19" fill="#008000"/>
<rect x="1104" y="738" width="4" height="17" fill="#ff0000"/>
<rect x="1112" y="738" width="4" height="16" fill="#ff0000"/>
<rect x="1120" y="738" width="4" height="16" fill="#008000"/>
<rect x="1128" y="738" width="4" height="19" fill="#008000"/>
<rect x="1136" y="738" width="4" height="1" fill="#ff0000"/>
<rect x="1144" y="738" width="4" height="1" fill="#ff0000"/>
<rect x="3" y="521" width="1" height="1" fill="#eef8f8"/>
<rect x="3" y="641" width="1" height="1" fill="#eef8f8"/>
<rect x="3" y="738" width="1" height="1" fill="#eef8f8"/>
<rect x="8" y="521" width="1" height="1" fill="#eef8f8"/>
<rect x="8" y="641" width="1" height="1" fill="#eef8f8"/>
<rect x="8" y="738" width="1" height="1" fill="#eef8f8"/>
<rect x="9" y="521" width="1" height="1" fill="#eef8f8"/>
<rect x="9" y="641" width="1" height="1" fill="#eef8f8"/>
<rect x="9" y="738" width="1" height="1" fill="#eef8f8"/>
<rect x="10" y="521" width="1" height="1" fill="#eef8f8"/>
<rect x="10" y="641" width="1" height="1" fill="#eef8f8"/>
<rect x="10" y="738" width="1" height="1" fill="#eef8f8"/>
<rect x="16" y="521" width="1" height="1" fill="#eef8f8"/>
<rect x="16" y="641" width="1" height="1" fill="#eef8f8"/>
<rect x="16" y="738" width="1" height="1" fill="#eef8f8"/>
<rect x="26" y="521" width="1" height="1" fill="#eef8f8"/>
<rect x="26" y="641" width="1" height="1" fill="#eef8f8"/>
<rect x="26" y="738" width="1" height="1" fill="#eef8f8"/>
<rect x="27" y="521" width="1" height="1" fill="#eef8f8"/>
<rect x="27" y="641" width="1" height="1" fill="#eef8f8"/>
<rect x="27" y="738" width="1" height="1" fill="#eef8f8"/>
<rect x="32" y="521" width="1" height="1" fill="#eef8f8"/>
<rect x="32" y="641" width="1" height="1" fill="#eef8f8"/>
<rect x="32" y="738" width="1" height="1" fill="#eef8f8"/>
<rect x="33" y="521" width="1" height="1" fill="#eef8f8"/>
<rect x="33" y="641" width="1" height="1" fill="#eef8f8"/>
<rect x="33" y="738" width="1" height="1" fill="#eef8f8"/>
<rect x="34" y="521" width="1" height="1" fill="#eef8f8"/>
<rect x="34" y="641" width="1" height="1" fill="#eef8f8"/>
<rect x="34" y="738" width="1" height="1" fill="#eef8f8"/>
<rect x="40" y="521" width="1" height="1" fill="#eef8f8"/>
<rect x="40" y="641" width="1" height="1" fill="#eef8f8"/>
<rect x="40" y="738" width="1" height="1" fill="#eef8f8"/>
<rect x="50" y="521" width="1" height="1" fill="#eef8f8"/>
<rect x="50" y="641" width="1" height="1" fill="#eef8f8"/>
<rect x="50" y="738" width="1" height="1" fill="#eef8f8"/>
<rect x="51" y="521" width="1" height="1" fill="#eef8f8"/>
<rect x="51" y="641" width="1" height="1" fill="#eef8f8"/>
<rect x="51" y="738" width="1" height="1" fill="#eef8f8"/>
<rect x="56" y="521" width="1" height="1" fill="#eef8f8"/>
<rect x="56" y="641" width="1" height="1" fill="#eef8f8"/>
<rect x="56" y="738" width="1" height="1" fill="#eef8f8"/>
<rect x="57" y="521" width="1" height="1" fill="#eef8f8"/>
<rect x="57" y="641" width="1" height="1" fill="#eef8f8"/>
<rect x="57" y="738" width="1" height="1" fill="#eef8f8"/>
<rect x="58" y="521" width="1" height="1" fill="#eef8f8"/>
<rect x="58" y="641" width="1" height="1" fill="#eef8f8"/>
<rect x="58" y="738" width="1" height="1" fill="#eef8f8"/>
<rect x="64" y="521" width="1" height="1" fill="#eef8f8"/>
<rect x="64" y="641" width="1" height="1" fill="#eef8f8"/>
<rect x="64" y="738" width="1" height="1" fill="#eef8f8"/>
<rect x="74" y="521" width="1" height="1" fill="#eef8f8"/>
<rect x="74" y="641" width="1" height="1" fill="#eef8f8"/>
<rect x="74" y="738" width="1" height="1" fill="#eef8f8"/>
<rect x="75" y="521" width="1" height="1" fill="#eef8f8"/>
<rect x="75" y="641" width="1" height="1" fill="#eef8f8"/>
<rect x="75" y="738" width="1" height="1" fill="#eef8f8"/>
<rect x="80" y="521" width="1" height="1" fill="#eef8f8"/>
<rect x="80" y="641" width="1" height="1" fill="#eef8f8"/>
<rect x="80" y="738" width="1" height="1" fill="#eef8f8"/>
<rect x="81" y="521" width="1" height="1" fill="#eef8f8"/>
<rect x="81" y="641" width="1" height="1" fill="#eef8f8"/>
<rect x="81" y="738" width="1" height="1" fill="#eef8f8"/>
<rect x="82" y="521" width="1" height="1" fill="#eef8f8"/>
<rect x="82" y="641" width="1" height="1" fill="#eef8f8"/>
<rect x="82" y="738" width="1" height="1" fill="#eef8f8"/>
<rect x="88" y="521" width="1" height="1" fill="#eef8f8"/>
<rect x="88" y="641" width="1" height="1" fill="#eef8f8"/>
<rect x="88" y="738" width="1" height="1" fill="#eef8f8"/>
<rect x="98" y="521" width="1" height="1" fill="#eef8f8"/>
<rect x="98" y="641" width="1" height="1" fill="#eef8f8"/>
<rect x="98" y="738" width="1" height="1" fill="#eef8f8"/>
<rect x="99" y="521" width="1" height="1" fill="#eef8f8"/>
<rect x="99" y="641" width="1" height="1" fill="#eef8f8"/>
<rect x="99" y="738" width="1" height="1" fill="#eef8f8"/>
<rect x="104" y="521" width="1" height="1" fill="#eef8f8"/>
<rect x="104" y="641" width="1" height="1" fill="#eef8f8"/>
<rect x="104" y="738" width="1" height="1" fill="#eef8f8"/>
<rect x="105" y="521" width="1" height="1" fill="#eef8f8"/>
<rect x="105" y="641" width="1" height="1" fill="#eef8f8"/>
<rect x="105" y="738" width="1" height="1" fill="#eef8f8"/>
<rect x="106" y="521" width="1" height="1" fill="#eef8f8"/>
<rect x="106" y="641" width="1" height="1" fill="#eef8f8"/>
<rect x="106" y="738" width="1" height="1" fill="#eef8f8"/>
<rect x="112" y="521" width="1" height="1" fill="#eef8f8"/>
<rect x="112" y="641" width="1" height="1" fill="#eef8f8"/>
<rect x="112" y="738" width="1" height="1" fill="#eef8f8"/>
<rect x="122" y="521" width="1" height="1" fill="#eef8f8"/>
<rect x="122" y="641" width="1" height="1" fill="#eef8f8"/>
<rect x="122" y="738" width="1" height="1" fill="#eef8f8"/>
<rect x="123" y="521" width="1" height="1" fill="#eef8f8"/>
<rect x="123" y="641" width="1" height="1" fill="#eef8f8"/>
<rect x="123" y="738" width="1" height="1" fill="#eef8f8"/>
<rect x="128" y="521" width="1" height="1" fill="#eef8f8"/>
<rect x="128" y="641" width="1" height="1" fill="#eef8f8"/>
<rect x="128" y="738" width="1" height="1" fill="#eef8f8"/>
<rect x="129" y="521" width="1" height="1" fill="#eef8f8"/>
<rect x="129" y="641" width="1" height="1" fill="#eef8f8"/>
<rect x="129" y="738" width="1" height="1" fill="#eef8f8"/>
<rect x="130" y="521" width="1" height="1" fill="#eef8f8"/>
<rect x="130" y="641" width="1" height="1" fill="#eef8f8"/>
<rect x="130" y="738" width="1" height="1" fill="#eef8f8"/>
<rect x="136" y="521" width="1" height="1" fill="#eef8f8"/>
<rect x="136" y="641" width="1" height="1" fill="#eef8f8"/>
<rect x="136" y="738" width="1" height="1" fill="#eef8f8"/>
<rect x="146" y="521" width="1" height="1" fill="#eef8f8"/>
<rect x="146" y="641" width="1" height="1" fill="#eef8f8"/>
<rect x="146" y="738" width="1" height="1" fill="#eef8f8"/>
<rect x="147" y="521" width="1" height="1" fill="#eef8f8"/>
<rect x="147" y="641" width="1" height="1" fill="#eef8f8"/>
<rect x="147" y="738" width="1" height="1" fill="#eef8f8"/>
<rect x="152" y="521" width="1" height="1" fill="#eef8f8"/>
<rect x="152" y="641" width="1" height="1" fill="#eef8f8"/>
<rect x="152" y="738" width="1" height="1" fill="#eef8f8"/>
<rect x="153" y="521" width="1" height="1" fill="#eef8f8"/>
<rect x="153" y="641" width="1" height="1" fill="#eef8f8"/>
<rect x="153" y="738" width="1" height="1" fill="#eef8f8"/>
<rect x="154" y="521" width="1" height="1" fill="#eef8f8"/>
<rect x="154" y="641" width="1" height="1" fill="#eef8f8"/>
<rect x="154" y="738" width="1" height="1" fill="#eef8f8"/>
<rect x="160" y="521" width="1" height="1" fill="#eef8f8"/>
<rect x="160" y="641" width="1" height="1" fill="#eef8f8"/>
<rect x="160" y="738" width="1" height="1" fill="#eef8f8"/>
<rect x="170" y="521" width="1" height="1" fill="#eef8f8"/>
<rect x="170" y="641" width="1" height="1" fill="#eef8f8"/>
<rect x="170" y="738" width="1" height="1" fill="#eef8f8"/>
<rect x="171" y="521" width="1" height="1" fill="#eef8f8"/>
<rect x="171" y="641" width="1" height="1" fill="#eef8f8"/>
<rect x="171" y="738" width="1" height="1" fill="#eef8f8"/>
<rect x="176" y="521" width="1" height="1" fill="#eef8f8"/>
<rect x="176" y="641" width="1" height="1" fill="#eef8f8"/>
<rect x="176" y="738" width="1" height="1" fill="#eef8f8"/>
<rect x="177" y="521" width="1" height="1" fill="#eef8f8"/>
<rect x="177" y="641" width="1" height="1" fill="#eef8f8"/>
<rect x="177" y="738" width="1" height="1" fill="#eef8f8"/>
<rect x="178" y="521" width="1" height="1" fill="#eef8f8"/>
<rect x="178" y="641" width="1" height="1" fill="#eef8f8"/>
<rect x="178" y="738" width="1" height="1" fill="#eef8f8"/>
<rect x="184" y="521" width="1" height="1" fill="#eef8f8"/>
<rect x="184" y="641" width="1" height="1" fill="#eef8f8"/>
<rect x="184" y="738" width="1" height="1" fill="#eef8f8"/>
<rect x="194" y="521" width="1" height="1" fill="#eef8f8"/>
<rect x="194" y="641" width="1" height="1" fill="#eef8f8"/>
<rect x="194" y="738" width="1" height="1" fill="#eef8f8"/>
<rect x="195" y="521" width="1" height="1" fill="#eef8f8"/>
<rect x="195" y="641" width="1" height="1" fill="#eef8f8"/>
<rect x="195" y="738" width="1" height="1" fill="#eef8f8"/>
<rect x="200" y="521" width="1" height="1" fill="#eef8f8"/>
<rect x="200" y="641" width="1" height="1" fill="#eef8f8"/>
<rect x="200" y="738" width="1" height="1" fill="#eef8f8"/>
<rect x="201" y="521" width="1" height="1" fill="#eef8f8"/>
<rect x="201" y="641" width="1" height="1" fill="#eef8f8"/>
<rect x="201" y="738" width="1" height="1" fill="#eef8f8"/>
<rect x="202" y="521" width="1" height="1" fill="#eef8f8"/>
<rect x="202" y="641" width="1" height="1" fill="#eef8f8"/>
<rect x="202" y="738" width="1" height="1" fill="#eef8f8"/>
<rect x="208" y="521" width="1" height="1" fill="#eef8f8"/>
<rect x="208" y="641" width="1" height="1" fill="#eef8f8"/>
<rect x="208" y="738" width="1" height="1" fill="#eef8f8"/>
<rect x="218" y="521" width="1" height="1" fill="#eef8f8"/>
<rect x="218" y="641" width="1" height="1" fill="#eef8f8"/>
<rect x="218" y="738" width="1" height="1" fill="#eef8f8"/>
<rect x="219" y="521" width="1" height="1" fill="#eef8f8"/>
<rect x="219" y="641" width="1" height="1" fill="#eef8f8"/>
<rect x="219" y="738" width="1" height="1" fill="#eef8f8"/>
<rect x="224" y="521" width="1" height="1" fill="#eef8f8"/>
<rect x="224" y="641" width="1" height="1" fill="#eef8f8"/>
<rect x="224" y="738" width="1" height="1" fill="#eef8f8"/>
<rect x="225" y="521" width="1" height="1" fill="#eef8f8"/>
<rect x="225" y="641" width="1" height="1" fill="#eef8f8"/>
<rect x="225" y="738" width="1" height="1" fill="#eef8f8"/>
<rect x="226" y="521" width="1" height="1" fill="#eef8f8"/>
<rect x="226" y="641" width="1" height="1" fill="#eef8f8"/>
<rect x="226" y="738" width="1" height="1" fill="#eef8f8"/>
<rect x="232" y="521" width="1" height="1" fill="#eef8f8"/>
<rect x="232" y="641" width="1" height="1" fill="#eef8f8"/>
<rect x="232" y="738" width="1" height="1" fill="#eef8f8"/>
<rect x="242" y="521" width="1" height="1" fill="#eef8f8"/>
<rect x="242" y="641" width="1" height="1" fill="#eef8f8"/>
<rect x="242" y="738" width="1" height="1" fill="#eef8f8"/>
<rect x="243" y="521" width="1" height="1" fill="#eef8f8"/>
<rect x="243" y="641" width="1" height="1" fill="#eef8f8"/>
<rect x="243" y="738" width="1" height="1" fill="#eef8f8"/>
<rect x="248" y="521" width="1" height="1" fill="#eef8f8"/>
<rect x="248" y="641" width="1" height="1" fill="#eef8f8"/>
<rect x="248" y="738" width="1" height="1" fill="#eef8f8"/>
<rect x="249" y="521" width="1" height="1" fill="#eef8f8"/>
<rect x="249" y="641" width="1" height="1" fill="#eef8f8"/>
<rect x="249" y="738" width="1" height="1" fill="#eef8f8"/>
<rect x="250" y="521" width="1" height="1" fill="#eef8f8"/>
<rect x="250" y="641" width="1" height="1" fill="#eef8f8"/>
<rect x="250" y="738" width="1" height="1" fill="#eef8f8"/>
<rect x="256" y="521" width="1" height="1" fill="#eef8f8"/>
<rect x="256" y="641" width="1" height="1" fill="#eef8f8"/>
<rect x="256" y="738" width="1" height="1" fill="#eef8f8"/>
<rect x="266" y="521" width="1" height="1" fill="#eef8f8"/>
<rect x="266" y="641" width="1" height="1" fill="#eef8f8"/>
<rect x="266" y="738" width="1" height="1" fill="#eef8f8"/>
<rect x="267" y="521" width="1" height="1" fill="#eef8f8"/>
<rect x="267" y="641" width="1" height="1" fill="#eef8f8"/>
<rect x="267" y="738" width="1" height="1" fill="#eef8f8"/>
<rect x="272" y="521" width="1" height="1" fill="#eef8f8"/>
<rect x="272" y="641" width="1" height="1" fill="#eef8f8"/>
<rect x="272" y="738" width="1" height="1" fill="#eef8f8"/>
<rect x="273" y="521" width="1" height="1" fill="#eef8f8"/>
<rect x="273" y="641" width="1" height="1" fill="#eef8f8"/>
<rect x="273" y="738" width="1" height="1" fill="#eef8f8"/>
<rect x="274" y="521" width="1" height="1" fill="#eef8f8"/>
<rect x="274" y="641" width="1" height="1" fill="#eef8f8"/>
<rect x="274" y="738" width="1" height="1" fill="#eef8f8"/>
<rect x="280" y="521" width="1" height="1" fill="#eef8f8"/>
<rect x="280" y="641" width="1" height="1" fill="#eef8f8"/>
<rect x="280" y="738" width="1" height="1" fill="#eef8f8"/>
<rect x="290" y="521" width="1" height="1" fill="#eef8f8"/>
<rect x="290" y="641" width="1" height="1" fill="#eef8f8"/>
<rect x="290" y="738" width="1" height="1" fill="#eef8f8"/>
<rect x="291" y="521" width="1" height="1" fill="#eef8f8"/>
<rect x="291" y="641" width="1" height="1" fill="#eef8f8"/>
<rect x="291" y="738" width="1" height="1" fill="#eef8f8"/>
<rect x="296" y="521" width="1" height="1" fill="#eef8f8"/>
<rect x="296" y="641" width="1" height="1" fill="#eef8f8"/>
<rect x="296" y="738" width="1" height="1" fill="#eef8f8"/>
<rect x="297" y="521" width="1" height="1" fill="#eef8f8"/>
<rect x="297" y="641" width="1" height="1" fill="#eef8f8"/>
<rect x="297" y="738" width="1" height="1" fill="#eef8f8"/>
<rect x="298" y="521" width="1" height="1" fill="#eef8f8"/>
<rect x="298" y="641" width="1" height="1" fill="#eef8f8"/>
<rect x="298" y="738" width="1" height="1" fill="#eef8f8"/>
<rect x="304" y="521" width="1" height="1" fill="#eef8f8"/>
<rect x="304" y="641" width="1" height="1" fill="#eef8f8"/>
<rect x="304" y="738" width="1" height="1" fill="#eef8f8"/>
<rect x="314" y="521" width="1" height="1" fill="#eef8f8"/>
<rect x="314" y="641" width="1" height="1" fill="#eef8f8"/>
<rect x="314" y="738" width="1" height="1" fill="#eef8f8"/>
<rect x="315" y="521" width="1" height="1" fill="#eef8f8"/>
<rect x="315" y="641" width="1" height="1" fill="#eef8f8"/>
<rect x="315" y="738" width="1" height="1" fill="#eef8f8"/>
<rect x="320" y="521" width="1" height="1" fill="#eef8f8"/>
<rect x="320" y="641" width="1" height="1" fill="#eef8f8"/>
<rect x="320" y="738" width="1" height="1" fill="#eef8f8"/>
<rect x="321" y="521" width="1" height="1" fill="#eef8f8"/>
<rect x="321" y="641" width="1" height="1" fill="#eef8f8"/>
<rect x="321" y="738" width="1" height="1" fill="#eef8f8"/>
<rect x="322" y="521" width="1" height="1" fill="#eef8f8"/>
<rect x="322" y="641" width="1" height="1" fill="#eef8f8"/>
<rect x="322" y="738" width="1" height="1" fill="#eef8f8"/>
<rect x="328" y="521" width="1" height="1" fill="#eef8f8"/>
<rect x="328" y="641" width="1" height="1" fill="#eef8f8"/>
<rect x="328" y="738" width="1" height="1" fill="#eef8f8"/>
<rect x="338" y="521" width="1" height="1" fill="#eef8f8"/>
<rect x="338" y="641" width="1" height="1" fill="#eef8f8"/>
<rect x="338" y="738" width="1" height="1" fill="#eef8f8"/>
<rect x="339" y="521" width="1" height="1" fill="#eef8f8"/>
<rect x="339" y="641" width="1" height="1" fill="#eef8f8"/>
<rect x="339" y="738" width="1" height="1" fill="#eef8f8"/>
<rect x="344" y="521" width="1" height="1" fill="#eef8f8"/>
<rect x="344" y="641" width="1" height="1" fill="#eef8f8"/>
<rect x="344" y="738" width="1" height="1" fill="#eef8f8"/>
<rect x="345" y="521" width="1" height="1" fill="#eef8f8"/>
<rect x="345" y="641" width="1" height="1" fill="#eef8f8"/>
<rect x="345" y="738" width="1" height="1" fill="#eef8f8"/>
<rect x="346" y="521" width="1" height="1" fill="#eef8f8"/>
<rect x="346" y="641" width="1" height="1" fill="#eef8f8"/>
<rect x="346" y="738" width="1" height="1" fill="#eef8f8"/>
<rect x="352" y="521" width="1" height="1" fill="#eef8f8"/>
<rect x="352" y="641" width="1" height="1" fill="#eef8f8"/>
<rect x="352" y="738" width="1" height="1" fill="#eef8f8"/>
<rect x="362" y="521" width="1" height="1" fill="#eef8f8"/>
<rect x="362" y="641" width="1" height="1" fill="#eef8f8"/>
<rect x="362" y="738" width="1" height="1" fill="#eef8f8"/>
<rect x="363" y="521" width="1" height="1" fill="#eef8f8"/>
<rect x="363" y="641" width="1" height="1" fill="#eef8f8"/>
<rect x="363" y="738" width="1" height="1" fill="#eef8f8"/>
<rect x="368" y="521" width="1" height="1" fill="#eef8f8"/>
<rect x="368" y="641" width="1" height="1" fill="#eef8f8"/>
<rect x="368" y="738" width="1" height="1" fill="#eef8f8"/>
<rect x="369" y="521" width="1" height="1" fill="#eef8f8"/>
<rect x="369" y="641" width="1" height="1" fill="#eef8f8"/>
<rect x="369" y="738" width="1" height="1" fill="#eef8f8"/>
<rect x="370" y="521" width="1" height="1" fill="#eef8f8"/>
<rect x="370" y="641" width="1" height="1" fill="#eef8f8"/>
<rect x="370" y="738" width="1" height="1" fill="#eef8f8"/>
<rect x="376" y="521" width="1" height="1" fill="#eef8f8"/>
<rect x="376" y="641" width="1" height="1" fill="#eef8f8"/>
<rect x="376" y="738" width="1" height="1" fill="#eef8f8"/>
<rect x="386" y="521" width="1" height="1" fill="#eef8f8"/>
<rect x="386" y="641" width="1" height="1" fill="#eef8f8"/>
<rect x="386" y="738" width="1" height="1" fill="#eef8f8"/>
<rect x="387" y="521" width="1" height="1" fill="#eef8f8"/>
<rect x="387" y="641" width="1" height="1" fill="#eef8f8"/>
<rect x="387" y="738" width="1" height="1" fill="#eef8f8"/>
<rect x="392" y="521" width="1" height="1" fill="#eef8f8"/>
<rect x="392" y="641" width="1" height="1" fill="#eef8f8"/>
<rect x="392" y="738" width="1" height="1" fill="#eef8f8"/>
<rect x="393" y="521" width="1" height="1" fill="#eef8f8"/>
<rect x="393" y="641" width="1" height="1" fill="#eef8f8"/>
<rect x="393" y="738" width="1" height="1" fill="#eef8f8"/>
<rect x="394" y="521" width="1" height="1" fill="#eef8f8"/>
<rect x="394" y="641" width="1" height="1" fill="#eef8f8"/>
<rect x="394" y="738" width="1" height="1" fill="#eef8f8"/>
<rect x="400" y="521" width="1" height="1" fill="#eef8f8"/>
<rect x="400" y="641" width="1" height="1" fill="#eef8f8"/>
<rect x="400" y="738" width="1" height="1" fill="#eef8f8"/>
<rect x="410" y="521" width="1" height="1" fill="#eef8f8"/>
<rect x="410" y="641" width="1" height="1" fill="#eef8f8"/>
<rect x="410" y="738" width="1" height="1" fill="#eef8f8"/>
<rect x="411" y="521" width="1" height="1" fill="#eef8f8"/>
<rect x="411" y="641" width="1" height="1" fill="#eef8f8"/>
<rect x="411" y="738" width="1" height="1" fill="#eef8f8"/>
<rect x="416" y="521" width="1" height="1" fill="#eef8f8"/>
<rect x="416" y="641" width="1" height="1" fill="#eef8f8"/>
<rect x="416" y="738" width="1" height="1" fill="#eef8f8"/>
<rect x="417" y="521" width="1" height="1" fill="#eef8f8"/>
<rect x="417" y="641" width="1" height="1" fill="#eef8f8"/>
<rect x="417" y="738" width="1" height="1" fill="#eef8f8"/>
<rect x="418" y="521" width="1" height="1" fill="#eef8f8"/>
<rect x="418" y="641" width="1" height="1" fill="#eef8f8"/>
<rect x="418" y="738" width="1" height="1" fill="#eef8f8"/>
<rect x="424" y="521" width="1" height="1" fill="#eef8f8"/>
<rect x="424" y="641" width="1" height="1" fill="#eef8f8"/>
<rect x="424" y="738" width="1" height="1" fill="#eef8f8"/>
<rect x="434" y="521" width="1" height="1" fill="#eef8f8"/>
<rect x="434" y="641" width="1" height="1" fill="#eef8f8"/>
<rect x="434" y="738" width="1" height="1" fill="#eef8f8"/>
<rect x="435" y="521" width="1" height="1" fill="#eef8f8"/>
<rect x="435" y="641" width="1" height="1" fill="#eef8f8"/>
<rect x="435" y="738" width="1" height="1" fill="#eef8f8"/>
<rect x="440" y="521" width="1" height="1" fill="#eef8f8"/>
<rect x="440" y="641" width="1" height="1" fill="#eef8f8"/>
<rect x="440" y="738" width="1" height="1" fill="#eef8f8"/>
<rect x="441" y="521" width="1" height="1" fill="#eef8f8"/>
<rect x="441" y="641" width="1" height="1" fill="#eef8f8"/>
<rect x="441" y="738" width="1" height="1" fill="#eef8f8"/>
<rect x="442" y="521" width="1" height="1" fill="#eef8f8"/>
<rect x="442" y="641" width="1" height="1" fill="#eef8f8"/>
<rect x="442" y="738" width="1" height="1" fill="#eef8f8"/>
<rect x="448" y="521" width="1" height="1" fill="#eef8f8"/>
<rect x="448" y="641" width="1" height="1" fill="#eef8f8"/>
<rect x="448" y="738" width="1" height="1" fill="#eef8f8"/>
<rect x="458" y="521" width="1" height="1" fill="#eef8f8"/>
<rect x="458" y="641" width="1" height="1" fill="#eef8f8"/>
<rect x="458" y="738" width="1" height="1" fill="#eef8f8"/>
<rect x="459" y="521" width="1" height="1" fill="#eef8f8"/>
<rect x="459" y="641" width="1" height="1" fill="#eef8f8"/>
<rect x="459" y="738" width="1" height="1" fill="#eef8f8"/>
<rect x="464" y="521" width="1" height="1" fill="#eef8f8"/>
<rect x="464" y="641" width="1" height="1" fill="#eef8f8"/>
<rect x="464" y="738" width="1" height="1" fill="#eef8f8"/>
<rect x="465" y="521" width="1" height="1" fill="#eef8f8"/>
<rect x="465" y="641" width="1" height="1" fill="#eef8f8"/>
<rect x="465" y="738" width="1" height="1" fill="#eef8f8"/>
<rect x="466" y="521" width="1" height="1" fill="#eef8f8"/>
<rect x="466" y="641" width="1" height="1" fill="#eef8f8"/>
<rect x="466" y="738" width="1" height="1" fill="#eef8f8"/>
<rect x="472" y="521" width="1" height="1" fill="#eef8f8"/>
<rect x="472" y="641" width="1" height="1" fill="#eef8f8"/>
<rect x="472" y="738" width="1" height="1" fill="#eef8f8"/>
<rect x="482" y="521" width="1" height="1" fill="#eef8f8"/>
<rect x="482" y="641" width="1" height="1" fill="#eef8f8"/>
<rect x="482" y="738" width="1" height="1" fill="#eef8f8"/>
<rect x="483" y="521" width="1" height="1" fill="#eef8f8"/>
<rect x="483" y="641" width="1" height="1" fill="#eef8f8"/>
<rect x="483" y="738" width="1" height="1" fill="#eef8f8"/>
<rect x="488" y="521" width="1" height="1" fill="#eef8f8"/>
<rect x="488" y="641" width="1" height="1" fill="#eef8f8"/>
<rect x="488" y="738" width="1" height="1" fill="#eef8f8"/>
<rect x="489" y="521" width="1" height="1" fill="#eef8f8"/>
<rect x="489" y="641" width="1" height="1" fill="#eef8f8"/>
<rect x="489" y="738" width="1" height="1" fill="#eef8f8"/>
<rect x="490" y="521" width="1" height="1" fill="#eef8f8"/>
<rect x="490" y="641" width="1" height="1" fill="#eef8f8"/>
<rect x="490" y="738" width="1" height="1" fill="#eef8f8"/>
<rect x="496" y="521" width="1" height="1" fill="#eef8f8"/>
<rect x="496" y="641" width="1" height="1" fill="#eef8f8"/>
<rect x="496" y="738" width="1" height="1" fill="#eef8f8"/>
<rect x="506" y="521" width="1" height="1" fill="#eef8f8"/>
<rect x="506" y="641" width="1" height="1" fill="#eef8f8"/>
<rect x="506" y="738" width="1" height="1" fill="#eef8f8"/>
<rect x="507" y="521" width="1" height="1" fill="#eef8f8"/>
<rect x="507" y="641" width="1" height="1" fill="#eef8f8"/>
<rect x="507" y="738" width="1" height="1" fill="#eef8f8"/>
<rect x="512" y="521" width="1" height="1" fill="#eef8f8"/>
<rect x="512" y="641" width="1" height="1" fill="#eef8f8"/>
<rect x="512" y="738" width="1" height="1" fill="#eef8f8"/>
<rect x="513" y="521" width="1" height="1" fill="#eef8f8"/>
<rect x="513" y="641" width="1" height="1" fill="#eef8f8"/>
<rect x="513" y="738" width="1" height="1" fill="#eef8f8"/>
<rect x="514" y="521" width="1" height="1" fill="#eef8f8"/>
<rect x="514" y="641" width="1" height="1" fill="#eef8f8"/>
<rect x="514" y="738" width="1" height="1" fill="#eef8f8"/>
<rect x="520" y="521" width="1" height="1" fill="#eef8f8"/>
<rect x="520" y="641" width="1" height="1" fill="#eef8f8"/>
<rect x="520" y="738" width="1" height="1" fill="#eef8f8"/>
<rect x="530" y="521" width="1" height="1" fill="#eef8f8"/>
<rect x="530" y="641" width="1" height="1" fill="#eef8f8"/>
<rect x="530" y="738" width="1" height="1" fill="#eef8f8"/>
<rect x="531" y="521" width="1" height="1" fill="#eef8f8"/>
<rect x="531" y="641" width="1" height="1" fill="#eef8f8"/>
<rect x="531" y="738" width="1" height="1" fill="#eef8f8"/>
<rect x="536" y="521" width="1" height="1" fill="#eef8f8"/>
<rect x="536" y="641" width="1" height="1" fill="#eef8f8"/>
<rect x="536" y="738" width="1" height="1" fill="#eef8f8"/>
<rect x="537" y="521" width="1" height="1" fill="#eef8f8"/>
<rect x="537" y="641" width="1" height="1" fill="#eef8f8"/>
<rect x="537" y="738" width="1" height="1" fill="#eef8f8"/>
<rect x="538" y="521" width="1" height="1" fill="#eef8f8"/>
<rect x="538" y="641" width="1" height="1" fill="#eef8f8"/>
<rect x="538" y="738" width="1" height="1" fill="#eef8f8"/>
<rect x="544" y="521" width="1" height="1" fill="#eef8f8"/>
<rect x="544" y="641" width="1" height="1" fill="#eef8f8"/>
<rect x="544" y="738" width="1" height="1" fill="#eef8f8"/>
<rect x="554" y="521" width="1" height="1" fill="#eef8f8"/>
<rect x="554" y="641" width="1" height="1" fill="#eef8f8"/>
<rect x="554" y="738" width="1" height="1" fill="#eef8f8"/>
<rect x="555" y="521" width="1" height="1" fill="#eef8f8"/>
<rect x="555" y="641" width="1" height="1" fill="#eef8f8"/>
<rect x="555" y="738" width="1" height="1" fill="#eef8f8"/>
<rect x="560" y="521" width="1" height="1" fill="#eef8f8"/>
<rect x="560" y="641" width="1" height="1" fill="#eef8f8"/>
<rect x="560" y="738" width="1" height="1" fill="#eef8f8"/>
<rect x="561" y="521" width="1" height="1" fill="#eef8f8"/>
<rect x="561" y="641" width="1" height="1" fill="#eef8f8"/>
<rect x="561" y="738" width="1" height="1" fill="#eef8f8"/>
<rect x="562" y="521" width="1" height="1" fill="#eef8f8"/>
<rect x="562" y="641" width="1" height="1" fill="#eef8f8"/>
<rect x="562" y="738" width="1" height="1" fill="#eef8f8"/>
<rect x="568" y="521" width="1" height="1" fill="#eef8f8"/>
<rect x="568" y="641" width="1" height="1" fill="#eef8f8"/>
<rect x="568" y="738" width="1" height="1" fill="#eef8f8"/>
<rect x="578" y="521" width="1" height="1" fill="#eef8f8"/>
<rect x="578" y="641" width="1" height="1" fill="#eef8f8"/>
<rect x="578" y="738" width="1" height="1" fill="#eef8f8"/>
<rect x="579" y="521" width="1" height="1" fill="#eef8f8"/>
<rect x="579" y="641" width="1" height="1" fill="#eef8f8"/>
<rect x="579" y="738" width="1" height="1" fill="#eef8f8"/>
<rect x="584" y="521" width="1" height="1" fill="#eef8f8"/>
<rect x="584" y="641" width="1" height="1" fill="#eef8f8"/>
<rect x="584" y="738" width="1" height="1" fill="#eef8f8"/>
<rect x="585" y="521" width="1" height="1" fill="#eef8f8"/>
<rect x="585" y="641" width="1" height="1" fill="#eef8f8"/>
<rect x="585" y="738" width="1" height="1" fill="#eef8f8"/>
<rect x="586" y="521" width="1" height="1" fill="#eef8f8"/>
<rect x="586" y="641" width="1" height="1" fill="#eef8f8"/>
<rect x="586" y="738" width="1" height="1" fill="#eef8f8"/>
<rect x="592" y="521" width="1" height="1" fill="#eef8f8"/>
<rect x="592" y="641" width="1" height="1" fill="#eef8f8"/>
<rect x="592" y="738" width="1" height="1" fill="#eef8f8"/>
<rect x="602" y="521" width="1" height="1" fill="#eef8f8"/>
<rect x="602" y="641" width="1" height="1" fill="#eef8f8"/>
<rect x="602" y="738" width="1" height="1" fill="#eef8f8"/>
<rect x="603" y="521" width="1" height="1" fill="#eef8f8"/>
<rect x="603" y="641" width="1" height="1" fill="#eef8f8"/>
<rect x="603" y="738" width="1" height="1" fill="#eef8f8"/>
<rect x="608" y="521" width="1" height="1" fill="#eef8f8"/>
<rect x="608" y="641" width="1" height="1" fill="#eef8f8"/>
<rect x="608" y="738" width="1" height="1" fill="#eef8f8"/>
<rect x="609" y="521" width="1" height="1" fill="#eef8f8"/>
<rect x="609" y="641" width="1" height="1" fill="#eef8f8"/>
<rect x="609" y="738" width="1" height="1" fill="#eef8f8"/>
<rect x="610" y="521" width="1" height="1" fill="#eef8f8"/>
<rect x="610" y="641" width="1" height="1" fill="#eef8f8"/>
<rect x="610" y="738" width="1" height="1" fill="#eef8f8"/>
<rect x="616" y="521" width="1" height="1" fill="#eef8f8"/>
<rect x="616" y="641" width="1" height="1" fill="#eef8f8"/>
<rect x="616" y="738" width="1" height="1" fill="#eef8f8"/>
<rect x="626" y="521" width="1" height="1" fill="#eef8f8"/>
<rect x="626" y="641" width="1" height="1" fill="#eef8f8"/>
<rect x="626" y="738" width="1" height="1" fill="#eef8f8"/>
<rect x="627" y="521" width="1" height="1" fill="#eef8f8"/>
<rect x="627" y="641" width="1" height="1" fill="#eef8f8"/>
<rect x="627" y="738" width="1" height="1" fill="#eef8f8"/>
<rect x="632" y="521" width="1" height="1" fill="#eef8f8"/>
<rect x="632" y="641" width="1" height="1" fill="#eef8f8"/>
<rect x="632" y="738" width="1" height="1" fill="#eef8f8"/>
<rect x="633" y="521" width="1" height="1" fill="#eef8f8"/>
<rect x="633" y="641" width="1" height="1" fill="#eef8f8"/>
<rect x="633" y="738" width="1" height="1" fill="#eef8f8"/>
<rect x="634" y="521" width="1" height="1" fill="#eef8f8"/>
<rect x="634" y="641" width="1" height="1" fill="#eef8f8"/>
<rect x="634" y="738" width="1" height="1" fill="#eef8f8"/>
<rect x="640" y="521" width="1" height="1" fill="#eef8f8"/>
<rect x="640" y="641" width="1" height="1" fill="#eef8f8"/>
<rect x="640" y="738" width="1" height="1" fill="#eef8f8"/>
<rect x="650" y="521" width="1" height="1" fill="#eef8f8"/>
<rect x="650" y="641" width="1" height="1" fill="#eef8f8"/>
<rect x="650" y="738" width="1" height="1" fill="#eef8f8"/>
<rect x="651" y="521" width="1" height="1" fill="#eef8f8"/>
<rect x="651" y="641" width="1" height="1" fill="#eef8f8"/>
<rect x="651" y="738" width="1" height="1" fill="#eef8f8"/>
<rect x="656" y="521" width="1" height="1" fill="#eef8f8"/>
<rect x="656" y="641" width="1" height="1" fill="#eef8f8"/>
<rect x="656" y="738" width="1" height="1" fill="#eef8f8"/>
<rect x="657" y="521" width="1" height="1" fill="#eef8f8"/>
<rect x="657" y="641" width="1" height="1" fill="#eef8f8"/>
<rect x="657" y="738" width="1" height="1" fill="#eef8f8"/>
<rect x="658" y="521" width="1" height="1" fill="#eef8f8"/>
<rect x="658" y="641" width="1" height="1" fill="#eef8f8"/>
<rect x="658" y="738" width="1" height="1" fill="#eef8f8"/>
<rect x="664" y="521" width="1" height="1" fill="#eef8f8"/>
<rect x="664" y="641" width="1" height="1" fill="#eef8f8"/>
<rect x="664" y="738" width="1" height="1" fill="#eef8f8"/>
<rect x="674" y="521" width="1" height="1" fill="#eef8f8"/>
<rect x="674" y="641" width="1" height="1" fill="#eef8f8"/>
<rect x="674" y="738" width="1" height="1" fill="#eef8f8"/>
<rect x="675" y="521" width="1" height="1" fill="#eef8f8"/>
<rect x="675" y="641" width="1" height="1" fill="#eef8f8"/>
<rect x="675" y="738" width="1" height="1" fill="#eef8f8"/>
<rect x="680" y="521" width="1" height="1" fill="#eef8f8"/>
<rect x="680" y="641" width="1" height="1" fill="#eef8f8"/>
<rect x="680" y="738" width="1" height="1" fill="#eef8f8"/>
<rect x="681" y="521" width="1" height="1" fill="#eef8f8"/>
<rect x="681" y="641" width="1" height="1" fill="#eef8f8"/>
<rect x="681" y="738" width="1" height="1" fill="#eef8f8"/>
<rect x="682" y="521" width="1" height="1" fill="#eef8f8"/>
<rect x="682" y="641" width="1" height="1" fill="#eef8f8"/>
<rect x="682" y="738" width="1" height="1" fill="#eef8f8"/>
<rect x="688" y="521" width="1" height="1" fill="#eef8f8"/>
<rect x="688" y="641" width="1" height="1" fill="#eef8f8"/>
<rect x="688" y="738" width="1" height="1" fill="#eef8f8"/>
<rect x="698" y="521" width="1" height="1" fill="#eef8f8"/>
<rect x="698" y="641" width="1" height="1" fill="#eef8f8"/>
<rect x="698" y="738" width="1" height="1" fill="#eef8f8"/>
<rect x="699" y="521" width="1" height="1" fill="#eef8f8"/>
<rect x="699" y="641" width="1" height="1" fill="#eef8f8"/>
<rect x="699" y="738" width="1" height="1" fill="#eef8f8"/>
<rect x="704" y="521" width="1" height="1" fill="#eef8f8"/>
<rect x="704" y="641" width="1" height="1" fill="#eef8f8"/>
<rect x="704" y="738" width="1" height="1" fill="#eef8f8"/>
<rect x="705" y="521" width="1" height="1" fill="#eef8f8"/>
<rect x="705" y="641" width="1" height="1" fill="#eef8f8"/>
<rect x="705" y="738" width="1" height="1" fill="#eef8f8"/>
<rect x="706" y="521" width="1" height="1" fill="#eef8f8"/>
<rect x="706" y="641" width="1" height="1" fill="#eef8f8"/>
<rect x="706" y="738" width="1" height="1" fill="#eef8f8"/>
<rect x="712" y="521" width="1" height="1" fill="#eef8f8"/>
<rect x="712" y="641" width="1" height="1" fill="#eef8f8"/>
<rect x="712" y="738" width="1" height="1" fill="#eef8f8"/>
<rect x="722" y="521" width="1" height="1" fill="#eef8f8"/>
<rect x="722" y="641" width="1" height="1" fill="#eef8f8"/>
<rect x="722" y="738" width="1" height="1" fill="#eef8f8"/>
<rect x="723" y="521" width="1" height="1" fill="#eef8f8"/>
<rect x="723" y="641" width="1" height="1" fill="#eef8f8"/>
<rect x="723" y="738" width="1" height="1" fill="#eef8f8"/>
<rect x="728" y="521" width="1" height="1" fill="#eef8f8"/>
<rect x="728" y="641" width="1" height="1" fill="#eef8f8"/>
<rect x="728" y="738" width="1" height="1" fill="#eef8f8"/>
<rect x="729" y="521" width="1" height="1" fill="#eef8f8"/>
<rect x="729" y="641" width="1" height="1" fill="#eef8f8"/>
<rect x="729" y="738" width="1" height="1" fill="#eef8f8"/>
<rect x="730" y="521" width="1" height="1" fill="#eef8f8"/>
<rect x="730" y="641" width="1" height="1" fill="#eef8f8"/>
<rect x="730" y="738" width="1" height="1" fill="#eef8f8"/>
<rect x="736" y="521" width="1" height="1" fill="#eef8f8"/>
<rect x="736" y="641" width="1" height="1" fill="#eef8f8"/>
<rect x="736" y="738" width="1" height="1" fill="#eef8f8"/>
<rect x="746" y="521" width="1" height="1" fill="#eef8f8"/>
<rect x="746" y="641" width="1" height="1" fill="#eef8f8"/>
<rect x="746" y="738" width="1" height="1" fill="#eef8f8"/>
<rect x="747" y="521" width="1" height="1" fill="#eef8f8"/>
<rect x="747" y="641" width="1" height="1" fill="#eef8f8"/>
<rect x="747" y="738" width="1" height="1" fill="#eef8f8"/>
<rect x="752" y="521" width="1" height="1" fill="#eef8f8"/>
<rect x="752" y="641" width="1" height="1" fill="#eef8f8"/>
<rect x="752" y="738" width="1" height="1" fill="#eef8f8"/>
<rect x="753" y="521" width="1" height="1" fill="#eef8f8"/>
<rect x="753" y="641" width="1" height="1" fill="#eef8f8"/>
<rect x="753" y="738" width="1" height="1" fill="#eef8f8"/>
<rect x="754" y="521" width="1" height="1" fill="#eef8f8"/>
<rect x="754" y="641" width="1" height="1" fill="#eef8f8"/>
<rect x="754" y="738" width="1" height="1" fill="#eef8f8"/>
<rect x="760" y="521" width="1" height="1" fill="#eef8f8"/>
<rect x="760" y="641" width="1" height="1" fill="#eef8f8"/>
<rect x="760" y="738" width="1" height="1" fill="#eef8f8"/>
<rect x="770" y="521" width="1" height="1" fill="#eef8f8"/>
<rect x="770" y="641" width="1" height="1" fill="#eef8f8"/>
<rect x="770" y="738" width="1" height="1" fill="#eef8f8"/>
<rect x="771" y="521" width="1" height="1" fill="#eef8f8"/>
<rect x="771" y="641" width="1" height="1" fill="#eef8f8"/>
<rect x="771" y="738" width="1" height="1" fill="#eef8f8"/>
<rect x="776" y="521" width="1" height="1" fill="#eef8f8"/>
<rect x="776" y="641" width="1" height="1" fill="#eef8f8"/>
<rect x="776" y="738" width="1" height="1" fill="#eef8f8"/>
<rect x="777" y="521" width="1" height="1" fill="#eef8f8"/>
<rect x="777" y="641" width="1" height="1" fill="#eef8f8"/>
<rect x="777" y="738" width="1" height="1" fill="#eef8f8"/>
<rect x="778" y="521" width="1" height="1" fill="#eef8f8"/>
<rect x="778" y="641" width="1" height="1" fill="#eef8f8"/>
<rect x="778" y="738" width="1" height="1" fill="#eef8f8"/>
<rect x="784" y="521" width="1" height="1" fill="#eef8f8"/>
<rect x="784" y="641" width="1" height="1" fill="#eef8f8"/>
<rect x="784" y="738" width="1" height="1" fill="#eef8f8"/>
<rect x="794" y="521" width="1" height="1" fill="#eef8f8"/>
<rect x="794" y="641" width="1" height="1" fill="#eef8f8"/>
<rect x="794" y="738" width="1" height="1" fill="#eef8f8"/>
<rect x="795" y="521" width="1" height="1" fill="#eef8f8"/>
<rect x="795" y="641" width="1" height="1" fill="#eef8f8"/>
<rect x="795" y="738" width="1" height="1" fill="#eef8f8"/>
<rect x="800" y="521" width="1" height="1" fill="#eef8f8"/>
<rect x="800" y="641" width="1" height="1" fill="#eef8f8"/>
<rect x="800" y="738" width="1" height="1" fill="#eef8f8"/>
<rect x="801" y="521" width="1" height="1" fill="#eef8f8"/>
<rect x="801" y="641" width="1" height="1" fill="#eef8f8"/>
<rect x="801" y="738" width="1" height="1" fill="#eef8f8"/>
<rect x="802" y="521" width="1" height="1" fill="#eef8f8"/>
<rect x="802" y="641" width="1" height="1" fill="#eef8f8"/>
<rect x="802" y="738" width="1" height="1" fill="#eef8f8"/>
<rect x="808" y="521" width="1" height="1" fill="#eef8f8"/>
<rect x="808" y="641" width="1" height="1" fill="#eef8f8"/>
<rect x="808" y="738" width="1" height="1" fill="#eef8f8"/>
<rect x="818" y="521" width="1" height="1" fill="#eef8f8"/>
<rect x="818" y="641" width="1" height="1" fill="#eef8f8"/>
<rect x="818" y="738" width="1" height="1" fill="#eef8f8"/>
<rect x="819" y="521" width="1" height="1" fill="#eef8f8"/>
<rect x="819" y="641" width="1" height="1" fill="#eef8f8"/>
<rect x="819" y="738" width="1" height="1" fill="#eef8f8"/>
<rect x="824" y="521" width="1" height="1" fill="#eef8f8"/>
<rect x="824" y="641" width="1" height="1" fill="#eef8f8"/>
<rect x="824" y="738" width="1" height="1" fill="#eef8f8"/>
<rect x="825" y="521" width="1" height="1" fill="#eef8f8"/>
<rect x="825" y="641" width="1" height="1" fill="#eef8f8"/>
<rect x="825" y="738" width="1" height="1" fill="#eef8f8"/>
<rect x="826" y="521" width="1" height="1" fill="#eef8f8"/>
<rect x="826" y="641" width="1" height="1" fill="#eef8f8"/>
<rect x="826" y="738" width="1" height="1" fill="#eef8f8"/>
<rect x="832" y="521" width="1" height="1" fill="#eef8f8"/>
<rect x="832" y="641" width="1" height="1" fill="#eef8f8"/>
<rect x="832" y="738" width="1" height="1" fill="#eef8f8"/>
<rect x="842" y="521" width="1" height="1" fill="#eef8f8"/>
<rect x="842" y="641" width="1" height="1" fill="#eef8f8"/>
<rect x="842" y="738" width="1" height="1" fill="#eef8f8"/>
<rect x="843" y="521" width="1" height="1" fill="#eef8f8"/>
<rect x="843" y="641" width="1" height="1" fill="#eef8f8"/>
<rect x="843" y="738" width="1" height="1" fill="#eef8f8"/>
<rect x="848" y="521" width="1" height="1" fill="#eef8f8"/>
<rect x="848" y="641" width="1" height="1" fill="#eef8f8"/>
<rect x="848" y="738" width="1" height="1" fill="#eef8f8"/>
<rect x="849" y="521" width="1" height="1" fill="#eef8f8"/>
<rect x="849" y="641" width="1" height="1" fill="#eef8f8"/>
<rect x="849" y="738" width="1" height="1" fill="#eef8f8"/>
<rect x="850" y="521" width="1" height="1" fill="#eef8f8"/>
<rect x="850" y="641" width="1" height="1" fill="#eef8f8"/>
<rect x="850" y="738" width="1" height="1" fill="#eef8f8"/>
<rect x="856" y="521" width="1" height="1" fill="#eef8f8"/>
<rect x="856" y="641" width="1" height="1" fill="#eef8f8"/>
<rect x="856" y="738" width="1" height="1" fill="#eef8f8"/>
<rect x="866" y="521" width="1" height="1" fill="#eef8f8"/>
<rect x="866" y="641" width="1" height="1" fill="#eef8f8"/>
<rect x="866" y="738" width="1" height="1" fill="#eef8f8"/>
<rect x="867" y="521" width="1" height="1" fill="#eef8f8"/>
<rect x="867" y="641" width="1" height="1" fill="#eef8f8"/>
<rect x="867" y="738" width="1" height="1" fill="#eef8f8"/>
<rect x="872" y="521" width="1" height="1" fill="#eef8f8"/>
<rect x="872" y="641" width="1" height="1" fill="#eef8f8"/>
<rect x="872" y="738" width="1" height="1" fill="#eef8f8"/>
<rect x="873" y="521" width="1" height="1" fill="#eef8f8"/>
<rect x="873" y="641" width="1" height="1" fill="#eef8f8"/>
<rect x="873" y="738" width="1" height="1" fill="#eef8f8"/>
<rect x="874" y="521" width="1" height="1" fill="#eef8f8"/>
<rect x="874" y="641" width="1" height="1" fill="#eef8f8"/>
<rect x="874" y="738" width="1" height="1" fill="#eef8f8"/>
<rect x="880" y="521" width="1" height="1" fill="#eef8f8"/>
<rect x="880" y="641" width="1" height="1" fill="#eef8f8"/>
<rect x="880" y="738" width="1" height="1" fill="#eef8f8"/>
<rect x="890" y="521" width="1" height="1" fill="#eef8f8"/>
<rect x="890" y="641" width="1" height="1" fill="#eef8f8"/>
<rect x="890" y="738" width="1" height="1" fill="#eef8f8"/>
<rect x="891" y="521" width="1" height="1" fill="#eef8f8"/>
<rect x="891" y="641" width="1" height="1" fill="#eef8f8"/>
<rect x="891" y="738" width="1" height="1" fill="#eef8f8"/>
<rect x="896" y="521" width="1" height="1" fill="#eef8f8"/>
<rect x="896" y="641" width="1" height="1" fill="#eef8f8"/>
<rect x="896" y="738" width="1" height="1" fill="#eef8f8"/>
<rect x="897" y="521" width="1" height="1" fill="#eef8f8"/>
<rect x="897" y="641" width="1" height="1" fill="#eef8f8"/>
<rect x="897" y="738" width="1" height="1" fill="#eef8f8"/>
<rect x="898" y="521" width="1" height="1" fill="#eef8f8"/>
<rect x="898" y="641" width="1" height="1" fill="#eef8f8"/>
<rect x="898" y="738" width="1" height="1" fill="#eef8f8"/>
<rect x="904" y="521" width="1" height="1" fill="#eef8f8"/>
<rect x="904" y="641" width="1" height="1" fill="#eef8f8"/>
<rect x="904" y="738" width="1" height="1" fill="#eef8f8"/>
<rect x="914" y="521" width="1" height="1" fill="#eef8f8"/>
<rect x="914" y="641" width="1" height="1" fill="#eef8f8"/>
<rect x="914" y="738" width="1" height="1" fill="#eef8f8"/>
<rect x="915" y="521" width="1" height="1" fill="#eef8f8"/>
<rect x="915" y="641" width="1" height="1" fill="#eef8f8"/>
<rect x="915" y="738" width="1" height="1" fill="#eef8f8"/>
<rect x="920" y="521" width="1" height="1" fill="#eef8f8"/>
<rect x="920" y="641" width="1" height="1" fill="#eef8f8"/>
<rect x="920" y="738" width="1" height="1" fill="#eef8f8"/>
<rect x="921" y="521" width="1" height="1" fill="#eef8f8"/>
<rect x="921" y="641" width="1" height="1" fill="#eef8f8"/>
<rect x="921" y="738" width="1" height="1" fill="#eef8f8"/>
<rect x="922" y="521" width="1" height="1" fill="#eef8f8"/>
<rect x="922" y="641" width="1" height="1" fill="#eef8f8"/>
<rect x="922" y="738" width="1" height="1" fill="#eef8f8"/>
<rect x="928" y="521" width="1" height="1" fill="#eef8f8"/>
<rect x="928" y="641" width="1" height="1" fill="#eef8f8"/>
<rect x="928" y="738" width="1" height="1" fill="#eef8f8"/>
<rect x="938" y="521" width="1" height="1" fill="#eef8f8"/>
<rect x="938" y="641" width="1" height="1" fill="#eef8f8"/>
<rect x="938" y="738" width="1" height="1" fill="#eef8f8"/>
<rect x="939" y="521" width="1" height="1" fill="#eef8f8"/>
<rect x="939" y="641" width="1" height="1" fill="#eef8f8"/>
<rect x="939" y="738" width="1" height="1" fill="#eef8f8"/>
<rect x="944" y="521" width="1" height="1" fill="#eef8f8"/>
<rect x="944" y="641" width="1" height="1" fill="#eef8f8"/>
<rect x="944" y="738" width="1" height="1" fill="#eef8f8"/>
<rect x="945" y="521" width="1" height="1" fill="#eef8f8"/>
<rect x="945" y="641" width="1" height="1" fill="#eef8f8"/>
<rect x="945" y="738" width="1" height="1" fill="#eef8f8"/>
<rect x="946" y="521" width="1" height="1" fill="#eef8f8"/>
<rect x="946" y="641" width="1" height="1" fill="#eef8f8"/>
<rect x="946" y="738" width="1" height="1" fill="#eef8f8"/>
<rect x="952" y="521" width="1" height="1" fill="#eef8f8"/>
<rect x="952" y="641" width="1" height="1" fill="#eef8f8"/>
<rect x="952" y="738" width="1" height="1" fill="#eef8f8"/>
<rect x="962" y="521" width="1" height="1" fill="#eef8f8"/>
<rect x="962" y="641" width="1" height="1" fill="#eef8f8"/>
<rect x="962" y="738" width="1" height="1" fill="#eef8f8"/>
<rect x="963" y="521" width="1" height="1" fill="#eef8f8"/>
<rect x="963" y="641" width="1" height="1" fill="#eef8f8"/>
<rect x="963" y="738" width="1" height="1" fill="#eef8f8"/>
<rect x="968" y="521" width="1" height="1" fill="#eef8f8"/>
<rect x="968" y="641" width="1" height="1" fill="#eef8f8"/>
<rect x="968" y="738" width="1" height="1" fill="#eef8f8"/>
<rect x="969" y="521" width="1" height="1" fill="#eef8f8"/>
<rect x="969" y="641" width="1" height="1" fill="#eef8f8"/>
<rect x="969" y="738" width="1" height="1" fill="#eef8f8"/>
<rect x="970" y="521" width="1" height="1" fill="#eef8f8"/>
<rect x="970" y="641" width="1" height="1" fill="#eef8f8"/>
<rect x="970" y="738" width="1" height="1" fill="#eef8f8"/>
<rect x="976" y="521" width="1" height="1" fill="#eef8f8"/>
<rect x="976" y="641" width="1" height="1" fill="#eef8f8"/>
<rect x="976" y="738" width="1" height="1" fill="#eef8f8"/>
<rect x="986" y="521" width="1" height="1" fill="#eef8f8"/>
<rect x="986" y="641" width="1" height="1" fill="#eef8f8"/>
<rect x="986" y="738" width="1" height="1" fill="#eef8f8"/>
<rect x="987" y="521" width="1" height="1" fill="#eef8f8"/>
<rect x="987" y="641" width="1" height="1" fill="#eef8f8"/>
<rect x="987" y="738" width="1" height="1" fill="#eef8f8"/>
<rect x="992" y="521" width="1" height="1" fill="#eef8f8"/>
<rect x="992" y="641" width="1" height="1" fill="#eef8f8"/>
<rect x="992" y="738" width="1" height="1" fill="#eef8f8"/>
<rect x="993" y="521" width="1" height="1" fill="#eef8f8"/>
<rect x="993" y="641" width="1" height="1" fill="#eef8f8"/>
<rect x="993" y="738" width="1" height="1" fill="#eef8f8"/>
<rect x="994" y="521" width="1" height="1" fill="#eef8f8"/>
<rect x="994" y="641" width="1" height="1" fill="#eef8f8"/>
<rect x="994" y="738" width="1" height="1" fill="#eef8f8"/>
<rect x="1000" y="521" width="1" height="1" fill="#eef8f8"/>
<rect x="1000" y="641" width="1" height="1" fill="#eef8f8"/>
<rect x="1000" y="738" width="1" height="1" fill="#eef8f8"/>
<rect x="1010" y="521" width="1" height="1" fill="#eef8f8"/>
<rect x="1010" y="641" width="1" height="1" fill="#eef8f8"/>
<rect x="1010" y="738" width="1" height="1" fill="#eef8f8"/>
<rect x="1011" y="521" width="1" height="1" fill="#eef8f8"/>
<rect x="1011" y="641" width="1" height="1" fill="#eef8f8"/>
<rect x="1011" y="738" width="1" height="1" fill="#eef8f8"/>
<rect x="1016" y="521" width="1" height="1" fill="#eef8f8"/>
<rect x="1016" y="641" width="1" height="1" fill="#eef8f8"/>
<rect x="1016" y="738" width="1" height="1" fill="#eef8f8"/>
<rect x="1017" y="521" width="1" height="1" fill="#eef8f8"/>
<rect x="1017" y="641" width="1" height="1" fill="#eef8f8"/>
<rect x="1017" y="738" width="1" height="1" fill="#eef8f8"/>
<rect x="1018" y="521" width="1" height="1" fill="#eef8f8"/>
<rect x="1018" y="641" width="1" height="1" fill="#eef8f8"/>
<rect x="1018" y="738" width="1" height="1" fill="#eef8f8"/>
<rect x="1024" y="521" width="1" height="1" fill="#eef8f8"/>
<rect x="1024" y="641" width="1" height="1" fill="#eef8f8"/>
<rect x="1024" y="738" width="1" height="1" fill="#eef8f8"/>
<rect x="1034" y="521" width="1" height="1" fill="#eef8f8"/>
<rect x="1034" y="641" width="1" height="1" fill="#eef8f8"/>
<rect x="1034" y="738" width="1" height="1" fill="#eef8f8"/>
<rect x="1035" y="521" width="1" height="1" fill="#eef8f8"/>
<rect x="1035" y="641" width="1" height="1" fill="#eef8f8"/>
<rect x="1035" y="738" width="1" height="1" fill="#eef8f8"/>
<rect x="1040" y="521" width="1" height="1" fill="#eef8f8"/>
<rect x="1040" y="641" width="1" height="1" fill="#eef8f8"/>
<rect x="1040" y="738" width="1" height="1" fill="#eef8f8"/>
<rect x="1041" y="521" width="1" height="1" fill="#eef8f8"/>
<rect x="1041" y="641" width="1" height="1" fill="#eef8f8"/>
<rect x="1041" y="738" width="1" height="1" fill="#eef8f8"/>
<rect x="1042" y="521" width="1" height="1" fill="#eef8f8"/>
<rect x="1042" y="641" width="1" height="1" fill="#eef8f8"/>
<rect x="1042" y="738" width="1" height="1" fill="#eef8f8"/>
<rect x="1048" y="521" width="1" height="1" fill="#eef8f8"/>
<rect x="1048" y="641" width="1" height="1" fill="#eef8f8"/>
<rect x="1048" y="738" width="1" height="1" fill="#eef8f8"/>
<rect x="1058" y="521" width="1" height="1" fill="#eef8f8"/>
<rect x="1058" y="641" width="1" height="1" fill="#eef8f8"/>
<rect x="1058" y="738" width="1" height="1" fill="#eef8f8"/>
<rect x="1059" y="521" width="1" height="1" fill="#eef8f8"/>
<rect x="1059" y="641" width="1" height="1" fill="#eef8f8"/>
<rect x="1059" y="738" width="1" height="1" fill="#eef8f8"/>
<rect x="1064" y="521" width="1" height="1" fill="#eef8f8"/>
<rect x="1064" y="641" width="1" height="1" fill="#eef8f8"/>
<rect x="1064" y="738" width="1" height="1" fill="#eef8f8"/>
<rect x="1065" y="521" width="1" height="1" fill="#eef8f8"/>
<rect x="1065" y="641" width="1" height="1" fill="#eef8f8"/>
<rect x="1065" y="738" width="1" height="1" fill="#eef8f8"/>
<rect x="1066" y="521" width="1" height="1" fill="#eef8f8"/>
<rect x="1066" y="641" width="1" height="1" fill="#eef8f8"/>
<rect x="1066" y="738" width="1" height="1" fill="#eef8f8"/>
<rect x="1072" y="521" width="1" height="1" fill="#eef8f8"/>
<rect x="1072" y="641" width="1" height="1" fill="#eef8f8"/>
<rect x="1072" y="738" width="1" height="1" fill="#eef8f8"/>
<rect x="1082" y="521" width="1" height="1" fill="#eef8f8"/>
<rect x="1082" y="641" width="1" height="1" fill="#eef8f8"/>
<rect x="1082" y="738" width="1" height="1" fill="#eef8f8"/>
<rect x="1083" y="521" width="1" height="1" fill="#eef8f8"/>
<rect x="1083" y="641" width="1" height="1" fill="#eef8f8"/>
<rect x="1083" y="738" width="1" height="1" fill="#eef8f8"/>
<rect x="1088" y="521" width="1" height="1" fill="#eef8f8"/>
<rect x="1088" y="641" width="1" height="1" fill="#eef8f8"/>
<rect x="1088" y="738" width="1" height="1" fill="#eef8f8"/>
<rect x="1089" y="521" width="1" height="1" fill="#eef8f8"/>
<rect x="1089" y="641" width="1" height="1" fill="#eef8f8"/>
<rect x="1089" y="738" width="1" height="1" fill="#eef8f8"/>
<rect x="1090" y="521" width="1" height="1" fill="#eef8f8"/>
<rect x="1090" y="641" width="1" height="1" fill="#eef8f8"/>
<rect x="1090" y="738" width="1" height="1" fill="#eef8f8"/>
<rect x="1096" y="521" width="1" height="1" fill="#eef8f8"/>
<rect x="1096" y="641" width="1" height="1" fill="#eef8f8"/>
<rect x="1096" y="738" width="1" height="1" fill="#eef8f8"/>
<rect x="1106" y="521" width="1" height="1" fill="#eef8f8"/>
<rect x="1106" y="641" width="1" height="1" fill="#eef8f8"/>
<rect x="1106" y="738" width="1" height="1" fill="#eef8f8"/>
<rect x="1107" y="521" width="1" height="1" fill="#eef8f8"/>
<rect x="1107" y="641" width="1" height="1" fill="#eef8f8"/>
<rect x="1107" y="738" width="1" height="1" fill="#eef8f8"/>
<rect x="1112" y="738" width="1" height="1" fill="#eef8f8"/>
<rect x="1113" y="738" width="1" height="1" fill="#eef8f8"/>
<rect x="1114" y="738" width="1" height="1" fill="#eef8f8"/>
<rect x="1120" y="738" width="1" height="1" fill="#eef8f8"/>
<rect x="1130" y="738" width="1" height="1" fill="#eef8f8"/>
<rect x="1131" y="738" width="1" height="1" fill="#eef8f8"/>
<rect x="1136" y="738" width="1" height="1" fill="#eef8f8"/>
<rect x="1137" y="738" width="1" height="1" fill="#eef8f8"/>
<rect x="1138" y="738" width="1" height="1" fill="#eef8f8"/>
<rect x="1144" y="738" width="1" height="1" fill="#eef8f8"/>
</g>
<rect x="2.5" y="2.5" width="1225" height="483" fill="none" stroke="#000" stroke-width="1"/>
<rect x="2.5" y="487.5" width="1225" height="103" fill="none" stroke="#000" stroke-width="1"/>
<rect x="2.5" y="592.5" width="1225" height="101" fill="none" stroke="#000" stroke-width="1"/>
<rect x="2.5" y="695.5" width="1225" height="84" fill="none" stroke="#000" stroke-width="1"/>
<rect x="1228" y="34" width="4" height="1" fill="#000"/>
<text x="1234" y="38" fill="#000" stroke="#000" stroke-width="0.25" font-size="9.5" textLength="31" lengthAdjust="spacingAndGlyphs">1.25110</text>
<rect x="1228" y="66" width="4" height="1" fill="#000"/>
<text x="1234" y="70" fill="#000" stroke="#000" stroke-width="0.25" font-size="9.5" textLength="31" lengthAdjust="spacingAndGlyphs">1.24920</text>
<rect x="1228" y="99" width="4" height="1" fill="#000"/>
<text x="1234" y="103" fill="#000" stroke="#000" stroke-width="0.25" font-size="9.5" textLength="31" lengthAdjust="spacingAndGlyphs">1.24730</text>
<rect x="1228" y="131" width="4" height="1" fill="#000"/>
<text x="1234" y="135" fill="#000" stroke="#000" stroke-width="0.25" font-size="9.5" textLength="31" lengthAdjust="spacingAndGlyphs">1.24540</text>
<rect x="1228" y="163" width="4" height="1" fill="#000"/>
<text x="1234" y="167" fill="#000" stroke="#000" stroke-width="0.25" font-size="9.5" textLength="31" lengthAdjust="spacingAndGlyphs">1.24350</text>
<rect x="1228" y="195" width="4" height="1" fill="#000"/>
<text x="1234" y="199" fill="#000" stroke="#000" stroke-width="0.25" font-size="9.5" textLength="31" lengthAdjust="spacingAndGlyphs">1.24160</text>
<rect x="1228" y="227" width="4" height="1" fill="#000"/>
<text x="1234" y="231" fill="#000" stroke="#000" stroke-width="0.25" font-size="9.5" textLength="31" lengthAdjust="spacingAndGlyphs">1.23970</text>
<rect x="1228" y="260" width="4" height="1" fill="#000"/>
<text x="1234" y="264" fill="#000" stroke="#000" stroke-width="0.25" font-size="9.5" textLength="31" lengthAdjust="spacingAndGlyphs">1.23780</text>
<rect x="1228" y="292" width="4" height="1" fill="#000"/>
<text x="1234" y="296" fill="#000" stroke="#000" stroke-width="0.25" font-size="9.5" textLength="31" lengthAdjust="spacingAndGlyphs">1.23590</text>
<rect x="1228" y="324" width="4" height="1" fill="#000"/>
<text x="1234" y="328" fill="#000" stroke="#000" stroke-width="0.25" font-size="9.5" textLength="31" lengthAdjust="spacingAndGlyphs">1.23400</text>
<rect x="1228" y="356" width="4" height="1" fill="#000"/>
<text x="1234" y="360" fill="#000" stroke="#000" stroke-width="0.25" font-size="9.5" textLength="31" lengthAdjust="spacingAndGlyphs">1.23210</text>
<rect x="1228" y="388" width="4" height="1" fill="#000"/>
<text x="1234" y="392" fill="#000" stroke="#000" stroke-width="0.25" font-size="9.5" textLength="31" lengthAdjust="spacingAndGlyphs">1.23020</text>
<rect x="1228" y="421" width="4" height="1" fill="#000"/>
<text x="1234" y="425" fill="#000" stroke="#000" stroke-width="0.25" font-size="9.5" textLength="31" lengthAdjust="spacingAndGlyphs">1.22830</text>
<rect x="1228" y="453" width="4" height="1" fill="#000"/>
<text x="1234" y="457" fill="#000" stroke="#000" stroke-width="0.25" font-size="9.5" textLength="31" lengthAdjust="spacingAndGlyphs">1.22640</text>
<rect x="1230" y="136" width="39" height="11" fill="#c80000"/>
<text x="1234" y="145" fill="#fff" stroke="#fff" stroke-width="0.25" font-size="9.5" textLength="31" lengthAdjust="spacingAndGlyphs">1.24482</text>
<rect x="1228" y="488" width="4" height="1" fill="#000"/>
<rect x="1228" y="593" width="4" height="1" fill="#000"/>
<rect x="1228" y="696" width="4" height="1" fill="#000"/>
<rect x="1228" y="589" width="4" height="1" fill="#000"/>
<rect x="1228" y="692" width="4" height="1" fill="#000"/>
<text x="1233" y="496" fill="#000" stroke="#000" stroke-width="0.25" font-size="9.5" textLength="37" lengthAdjust="spacingAndGlyphs">0.006693</text>
<text x="1233" y="524" fill="#000" stroke="#000" stroke-width="0.25" font-size="9.5" textLength="37" lengthAdjust="spacingAndGlyphs">0.000000</text>
<text x="1233" y="588" fill="#000" stroke="#000" stroke-width="0.25" font-size="9.5" textLength="40" lengthAdjust="spacingAndGlyphs">-0.013541</text>
<text x="1233" y="601" fill="#000" stroke="#000" stroke-width="0.25" font-size="9.5" textLength="42" lengthAdjust="spacingAndGlyphs">0.0041797</text>
<text x="1233" y="644" fill="#000" stroke="#000" stroke-width="0.25" font-size="9.5" textLength="42" lengthAdjust="spacingAndGlyphs">0.0000000</text>
<text x="1233" y="691" fill="#000" stroke="#000" stroke-width="0.25" font-size="9.5" textLength="45" lengthAdjust="spacingAndGlyphs">-0.0043958</text>
<text x="1233" y="704" fill="#000" stroke="#000" stroke-width="0.25" font-size="9.5" textLength="37" lengthAdjust="spacingAndGlyphs">0.006445</text>
<text x="1233" y="741" fill="#000" stroke="#000" stroke-width="0.25" font-size="9.5" textLength="37" lengthAdjust="spacingAndGlyphs">0.000000</text>
<text x="1233" y="777" fill="#000" stroke="#000" stroke-width="0.25" font-size="9.5" textLength="40" lengthAdjust="spacingAndGlyphs">-0.006239</text>
<text x="6" y="500" fill="#000" stroke="#000" stroke-width="0.25" font-size="9.5" textLength="55" lengthAdjust="spacingAndGlyphs">AO 0.004872</text>
<text x="6" y="605" fill="#000" stroke="#000" stroke-width="0.25" font-size="9.5" textLength="60" lengthAdjust="spacingAndGlyphs">AC 0.0009598</text>
<text x="6" y="708" fill="#000" stroke="#000" stroke-width="0.25" font-size="9.5" textLength="136" lengthAdjust="spacingAndGlyphs">Gator(13,8,5) 0.001969 0.000000</text>
<rect x="2" y="780" width="1" height="4" fill="#000"/>
<text x="2" y="792" fill="#000" stroke="#000" stroke-width="0.25" font-size="9.5" textLength="49" lengthAdjust="spacingAndGlyphs">27 Jan 2025</text>
<rect x="66" y="780" width="1" height="4" fill="#000"/>
<text x="66" y="792" fill="#000" stroke="#000" stroke-width="0.25" font-size="9.5" textLength="52" lengthAdjust="spacingAndGlyphs">27 Jan 13:00</text>
<rect x="130" y="780" width="1" height="4" fill="#000"/>
<text x="130" y="792" fill="#000" stroke="#000" stroke-width="0.25" font-size="9.5" textLength="52" lengthAdjust="spacingAndGlyphs">27 Jan 21:00</text>
<rect x="194" y="780" width="1" height="4" fill="#000"/>
<text x="194" y="792" fill="#000" stroke="#000" stroke-width="0.25" font-size="9.5" textLength="52" lengthAdjust="spacingAndGlyphs">28 Jan 05:00</text>
<rect x="258" y="780" width="1" height="4" fill="#000"/>
<text x="258" y="792" fill="#000" stroke="#000" stroke-width="0.25" font-size="9.5" textLength="52" lengthAdjust="spacingAndGlyphs">28 Jan 13:00</text>
<rect x="322" y="780" width="1" height="4" fill="#000"/>
<text x="322" y="792" fill="#000" stroke="#000" stroke-width="0.25" font-size="9.5" textLength="52" lengthAdjust="spacingAndGlyphs">28 Jan 21:00</text>
<rect x="386" y="780" width="1" height="4" fill="#000"/>
<text x="386" y="792" fill="#000" stroke="#000" stroke-width="0.25" font-size="9.5" textLength="52" lengthAdjust="spacingAndGlyphs">29 Jan 05:00</text>
<rect x="450" y="780" width="1" height="4" fill="#000"/>
<text x="450" y="792" fill="#000" stroke="#000" stroke-width="0.25" font-size="9.5" textLength="52" lengthAdjust="spacingAndGlyphs">29 Jan 13:00</text>
<rect x="514" y="780" width="1" height="4" fill="#000"/>
<text x="514" y="792" fill="#000" stroke="#000" stroke-width="0.25" font-size="9.5" textLength="52" lengthAdjust="spacingAndGlyphs">29 Jan 21:00</text>
<rect x="578" y="780" width="1" height="4" fill="#000"/>
<text x="578" y="792" fill="#000" stroke="#000" stroke-width="0.25" font-size="9.5" textLength="52" lengthAdjust="spacingAndGlyphs">30 Jan 05:00</text>
<rect x="642" y="780" width="1" height="4" fill="#000"/>
<text x="642" y="792" fill="#000" stroke="#000" stroke-width="0.25" font-size="9.5" textLength="52" lengthAdjust="spacingAndGlyphs">30 Jan 13:00</text>
<rect x="706" y="780" width="1" height="4" fill="#000"/>
<text x="706" y="792" fill="#000" stroke="#000" stroke-width="0.25" font-size="9.5" textLength="52" lengthAdjust="spacingAndGlyphs">30 Jan 21:00</text>
<rect x="770" y="780" width="1" height="4" fill="#000"/>
<text x="770" y="792" fill="#000" stroke="#000" stroke-width="0.25" font-size="9.5" textLength="52" lengthAdjust="spacingAndGlyphs">31 Jan 05:00</text>
<rect x="834" y="780" width="1" height="4" fill="#000"/>
<text x="834" y="792" fill="#000" stroke="#000" stroke-width="0.25" font-size="9.5" textLength="52" lengthAdjust="spacingAndGlyphs">31 Jan 13:00</text>
<rect x="898" y="780" width="1" height="4" fill="#000"/>
<text x="898" y="792" fill="#000" stroke="#000" stroke-width="0.25" font-size="9.5" textLength="52" lengthAdjust="spacingAndGlyphs">31 Jan 21:00</text>
<rect x="962" y="780" width="1" height="4" fill="#000"/>
<text x="962" y="792" fill="#000" stroke="#000" stroke-width="0.25" font-size="9.5" textLength="49" lengthAdjust="spacingAndGlyphs">3 Feb 05:00</text>
<rect x="1026" y="780" width="1" height="4" fill="#000"/>
<text x="1026" y="792" fill="#000" stroke="#000" stroke-width="0.25" font-size="9.5" textLength="49" lengthAdjust="spacingAndGlyphs">3 Feb 13:00</text>
<rect x="1090" y="780" width="1" height="4" fill="#000"/>
<text x="1090" y="792" fill="#000" stroke="#000" stroke-width="0.25" font-size="9.5" textLength="49" lengthAdjust="spacingAndGlyphs">3 Feb 21:00</text>
</g>
</svg></body></html>
